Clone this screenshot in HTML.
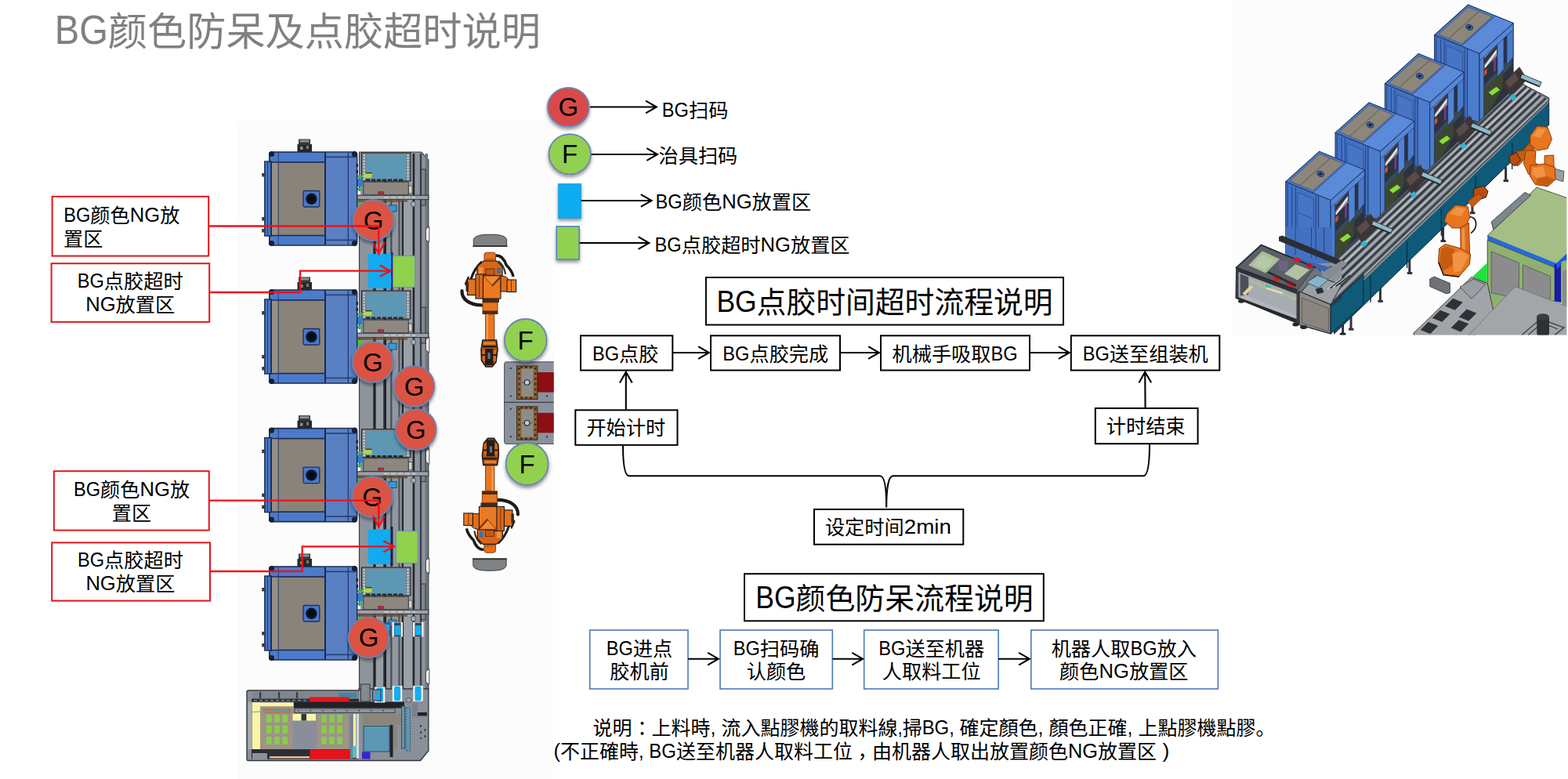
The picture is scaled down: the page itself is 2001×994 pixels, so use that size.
<!DOCTYPE html>
<html lang="zh-CN"><head><meta charset="utf-8"><title>BG颜色防呆及点胶超时说明</title>
<style>html,body{margin:0;padding:0;background:#fff;overflow:hidden}svg{display:block;font-family:'Liberation Sans','Noto Sans CJK SC',sans-serif}</style></head><body>
<svg width="2001" height="994" viewBox="0 0 2001 994">
<defs><filter id="sh" x="-30%" y="-30%" width="160%" height="170%"><feGaussianBlur in="SourceAlpha" stdDeviation="2.2"/><feOffset dx="0" dy="3" result="b"/><feComponentTransfer><feFuncA type="linear" slope="0.42"/></feComponentTransfer><feMerge><feMergeNode/><feMergeNode in="SourceGraphic"/></feMerge></filter></defs>
<rect width="2001" height="994" fill="#fff"/>
<g id="topview">
<clipPath id="tvclip"><rect x="304" y="154" width="402.7" height="840"/></clipPath>
<g clip-path="url(#tvclip)">
<rect x="304" y="154" width="402.7" height="840" fill="#fcfcfc"/>
<polygon points="458.5,194 537.5,194 546.8,204 546.8,880 458.5,880" fill="#8d949c" stroke="#3a3d44" stroke-width="1.2"/>
<rect x="476.3" y="196" width="3.3" height="684" fill="#23262c"/>
<rect x="480" y="196" width="9" height="684" fill="#969da5"/>
<rect x="489.3" y="196" width="3.7" height="684" fill="#23262c"/>
<rect x="498.2" y="196" width="2.2" height="684" fill="#4a4f57"/>
<rect x="501" y="196" width="7" height="684" fill="#9097a0"/>
<rect x="508.4" y="196" width="2" height="684" fill="#4a4f57"/>
<rect x="512.8" y="196" width="2.2" height="684" fill="#23262c"/>
<rect x="515.4" y="196" width="11" height="684" fill="#9aa1a9"/>
<rect x="526.6" y="196" width="2.6" height="684" fill="#23262c"/>
<rect x="535.8" y="196" width="2.4" height="684" fill="#3c4048"/>
<rect x="542.6" y="196" width="3.4" height="684" fill="#70767e"/>
<polygon points="547.8,289 543.4,292.5 543.4,305.5 547.8,309" fill="#fcfcfc" stroke="#3a3d44" stroke-width="0.9"/>
<polygon points="547.8,430 543.4,433.5 543.4,446.5 547.8,450" fill="#fcfcfc" stroke="#3a3d44" stroke-width="0.9"/>
<polygon points="547.8,572.4 543.4,575.9 543.4,588.9 547.8,592.4" fill="#fcfcfc" stroke="#3a3d44" stroke-width="0.9"/>
<polygon points="547.8,712 543.4,715.5 543.4,728.5 547.8,732" fill="#fcfcfc" stroke="#3a3d44" stroke-width="0.9"/>
<polygon points="547.8,853.4 543.4,856.9 543.4,869.9 547.8,873.4" fill="#fcfcfc" stroke="#3a3d44" stroke-width="0.9"/>
<rect x="537.5" y="216" width="5.5" height="46" fill="#7f868e" stroke="#2a2d33" stroke-width="0.9"/>
<rect x="537.5" y="392" width="5.5" height="46" fill="#7f868e" stroke="#2a2d33" stroke-width="0.9"/>
<rect x="537.5" y="568.6" width="5.5" height="46" fill="#7f868e" stroke="#2a2d33" stroke-width="0.9"/>
<rect x="537.5" y="745" width="5.5" height="46" fill="#7f868e" stroke="#2a2d33" stroke-width="0.9"/>
<rect x="461.5" y="195" width="62.5" height="36" fill="#7e868f" stroke="#2a2d33" stroke-width="1.2"/>
<rect x="467.5" y="197.5" width="50.8" height="31.1" fill="#5c97b4"/>
<line x1="464.6" y1="197" x2="464.6" y2="230" stroke="#e9ecef" stroke-width="1.6" stroke-dasharray="2.2 1.6"/>
<line x1="520.6" y1="197" x2="520.6" y2="230" stroke="#e9ecef" stroke-width="1.6" stroke-dasharray="2.2 1.6"/>
<line x1="467" y1="229.6" x2="514" y2="229.6" stroke="#20242a" stroke-width="2.2" stroke-dasharray="5 2"/>
<rect x="454.5" y="223.5" width="8" height="3.3" fill="#41b65a"/>
<rect x="465" y="221" width="9.5" height="6" fill="#b8d63c"/>
<rect x="466.5" y="220" width="8" height="1.4" fill="#2c3a20"/>
<rect x="454.5" y="228" width="8" height="10" fill="#2b7fd4"/>
<rect x="454.5" y="240" width="8" height="3" fill="#41b65a"/>
<rect x="454.5" y="244" width="5.5" height="4.5" fill="#ffffff"/>
<rect x="463.8" y="232.2" width="57.4" height="16.6" fill="#8d877f" stroke="#3a3c40" stroke-width="1"/>
<rect x="482" y="244" width="8" height="4" fill="#a0303a"/>
<rect x="521.5" y="237" width="4.5" height="10" fill="#d8d2c6" stroke="#3a3c40" stroke-width="0.8"/>
<rect x="454" y="249.2" width="92.8" height="5.4" fill="#9ba1a8" stroke="#30343a" stroke-width="1"/>
<line x1="490" y1="251.8" x2="530" y2="251.8" stroke="#c9cdd2" stroke-width="1.6" stroke-dasharray="6 3"/>
<rect x="456" y="255.5" width="64" height="2.1" fill="#7a4a1c"/>
<rect x="454.5" y="258" width="6.5" height="8" fill="#52c12e"/>
<rect x="496" y="262" width="10" height="8" fill="#2d9fd8" stroke="#1c3a50" stroke-width="0.8"/>
<circle cx="527.5" cy="260.5" r="3.2" fill="#a8adb3" stroke="#4a4e55" stroke-width="0.9"/>
<rect x="461.5" y="371" width="62.5" height="36" fill="#7e868f" stroke="#2a2d33" stroke-width="1.2"/>
<rect x="467.5" y="373.5" width="50.8" height="31.1" fill="#5c97b4"/>
<line x1="464.6" y1="373" x2="464.6" y2="406" stroke="#e9ecef" stroke-width="1.6" stroke-dasharray="2.2 1.6"/>
<line x1="520.6" y1="373" x2="520.6" y2="406" stroke="#e9ecef" stroke-width="1.6" stroke-dasharray="2.2 1.6"/>
<line x1="467" y1="405.6" x2="514" y2="405.6" stroke="#20242a" stroke-width="2.2" stroke-dasharray="5 2"/>
<rect x="454.5" y="399.5" width="8" height="3.3" fill="#41b65a"/>
<rect x="465" y="397" width="9.5" height="6" fill="#b8d63c"/>
<rect x="466.5" y="396" width="8" height="1.4" fill="#2c3a20"/>
<rect x="454.5" y="404" width="8" height="10" fill="#2b7fd4"/>
<rect x="454.5" y="416" width="8" height="3" fill="#41b65a"/>
<rect x="454.5" y="420" width="5.5" height="4.5" fill="#ffffff"/>
<rect x="463.8" y="408.2" width="57.4" height="16.6" fill="#8d877f" stroke="#3a3c40" stroke-width="1"/>
<rect x="482" y="420" width="8" height="4" fill="#a0303a"/>
<rect x="521.5" y="413" width="4.5" height="10" fill="#d8d2c6" stroke="#3a3c40" stroke-width="0.8"/>
<rect x="454" y="425.2" width="92.8" height="5.4" fill="#9ba1a8" stroke="#30343a" stroke-width="1"/>
<line x1="490" y1="427.8" x2="530" y2="427.8" stroke="#c9cdd2" stroke-width="1.6" stroke-dasharray="6 3"/>
<rect x="456" y="431.5" width="64" height="2.1" fill="#7a4a1c"/>
<rect x="454.5" y="434" width="6.5" height="8" fill="#52c12e"/>
<rect x="496" y="438" width="10" height="8" fill="#2d9fd8" stroke="#1c3a50" stroke-width="0.8"/>
<circle cx="527.5" cy="436.5" r="3.2" fill="#a8adb3" stroke="#4a4e55" stroke-width="0.9"/>
<rect x="461.5" y="547.6" width="62.5" height="36" fill="#7e868f" stroke="#2a2d33" stroke-width="1.2"/>
<rect x="467.5" y="550.1" width="50.8" height="31.1" fill="#5c97b4"/>
<line x1="464.6" y1="549.6" x2="464.6" y2="582.6" stroke="#e9ecef" stroke-width="1.6" stroke-dasharray="2.2 1.6"/>
<line x1="520.6" y1="549.6" x2="520.6" y2="582.6" stroke="#e9ecef" stroke-width="1.6" stroke-dasharray="2.2 1.6"/>
<line x1="467" y1="582.2" x2="514" y2="582.2" stroke="#20242a" stroke-width="2.2" stroke-dasharray="5 2"/>
<rect x="454.5" y="576.1" width="8" height="3.3" fill="#41b65a"/>
<rect x="465" y="573.6" width="9.5" height="6" fill="#b8d63c"/>
<rect x="466.5" y="572.6" width="8" height="1.4" fill="#2c3a20"/>
<rect x="454.5" y="580.6" width="8" height="10" fill="#2b7fd4"/>
<rect x="454.5" y="592.6" width="8" height="3" fill="#41b65a"/>
<rect x="454.5" y="596.6" width="5.5" height="4.5" fill="#ffffff"/>
<rect x="463.8" y="584.8" width="57.4" height="16.6" fill="#8d877f" stroke="#3a3c40" stroke-width="1"/>
<rect x="482" y="596.6" width="8" height="4" fill="#a0303a"/>
<rect x="521.5" y="589.6" width="4.5" height="10" fill="#d8d2c6" stroke="#3a3c40" stroke-width="0.8"/>
<rect x="454" y="601.8" width="92.8" height="5.4" fill="#9ba1a8" stroke="#30343a" stroke-width="1"/>
<line x1="490" y1="604.4" x2="530" y2="604.4" stroke="#c9cdd2" stroke-width="1.6" stroke-dasharray="6 3"/>
<rect x="456" y="608.1" width="64" height="2.1" fill="#7a4a1c"/>
<rect x="454.5" y="610.6" width="6.5" height="8" fill="#52c12e"/>
<rect x="496" y="614.6" width="10" height="8" fill="#2d9fd8" stroke="#1c3a50" stroke-width="0.8"/>
<circle cx="527.5" cy="613.1" r="3.2" fill="#a8adb3" stroke="#4a4e55" stroke-width="0.9"/>
<rect x="461.5" y="724" width="62.5" height="36" fill="#7e868f" stroke="#2a2d33" stroke-width="1.2"/>
<rect x="467.5" y="726.5" width="50.8" height="31.1" fill="#5c97b4"/>
<line x1="464.6" y1="726" x2="464.6" y2="759" stroke="#e9ecef" stroke-width="1.6" stroke-dasharray="2.2 1.6"/>
<line x1="520.6" y1="726" x2="520.6" y2="759" stroke="#e9ecef" stroke-width="1.6" stroke-dasharray="2.2 1.6"/>
<line x1="467" y1="758.6" x2="514" y2="758.6" stroke="#20242a" stroke-width="2.2" stroke-dasharray="5 2"/>
<rect x="454.5" y="752.5" width="8" height="3.3" fill="#41b65a"/>
<rect x="465" y="750" width="9.5" height="6" fill="#b8d63c"/>
<rect x="466.5" y="749" width="8" height="1.4" fill="#2c3a20"/>
<rect x="454.5" y="757" width="8" height="10" fill="#2b7fd4"/>
<rect x="454.5" y="769" width="8" height="3" fill="#41b65a"/>
<rect x="454.5" y="773" width="5.5" height="4.5" fill="#ffffff"/>
<rect x="463.8" y="761.2" width="57.4" height="16.6" fill="#8d877f" stroke="#3a3c40" stroke-width="1"/>
<rect x="482" y="773" width="8" height="4" fill="#a0303a"/>
<rect x="521.5" y="766" width="4.5" height="10" fill="#d8d2c6" stroke="#3a3c40" stroke-width="0.8"/>
<rect x="454" y="778.2" width="92.8" height="5.4" fill="#9ba1a8" stroke="#30343a" stroke-width="1"/>
<line x1="490" y1="780.8" x2="530" y2="780.8" stroke="#c9cdd2" stroke-width="1.6" stroke-dasharray="6 3"/>
<rect x="456" y="784.5" width="64" height="2.1" fill="#7a4a1c"/>
<rect x="454.5" y="787" width="6.5" height="8" fill="#52c12e"/>
<rect x="496" y="791" width="10" height="8" fill="#2d9fd8" stroke="#1c3a50" stroke-width="0.8"/>
<circle cx="527.5" cy="789.5" r="3.2" fill="#a8adb3" stroke="#4a4e55" stroke-width="0.9"/>
<rect x="469.8" y="324" width="29.2" height="44" fill="#12aaf0"/>
<rect x="499.2" y="322" width="2.4" height="48" fill="#1f2c7a"/>
<rect x="501.6" y="326.4" width="28" height="40" fill="#8fd04c" stroke="#6b8fc0" stroke-width="1"/>
<rect x="469.8" y="675.4" width="28.6" height="44.6" fill="#12aaf0"/>
<rect x="498.6" y="672" width="2.8" height="50" fill="#1a1d3a"/>
<rect x="505.4" y="677.7" width="27.8" height="40.8" fill="#8fd04c" stroke="#6b8fc0" stroke-width="1"/>
<rect x="500.5" y="794" width="13.5" height="18.5" fill="#f4f4f2"/>
<rect x="502.9" y="794.5" width="8.7" height="18" fill="#3a4048"/>
<rect x="503.5" y="798" width="7.5" height="12.5" fill="#14aef0"/>
<rect x="527" y="794" width="13.5" height="18.5" fill="#f4f4f2"/>
<rect x="529.4" y="794.5" width="8.7" height="18" fill="#3a4048"/>
<rect x="530" y="798" width="7.5" height="12.5" fill="#14aef0"/>
<rect x="489" y="794" width="10" height="18" fill="#3f5a78"/>
<rect x="492" y="797" width="5" height="8" fill="#14aef0"/>
<path d="M317 881H458V879H546.8V958L536.5 970.5H317Q315 970.5 315 968.5V883Q315 881 317 881Z" fill="#8a9098" stroke="#34373d" stroke-width="1.4"/>
<rect x="322" y="883" width="136" height="8" fill="#80868e"/>
<rect x="331" y="883" width="2.2" height="8" fill="#3a3d44"/>
<rect x="355" y="883" width="2.2" height="8" fill="#3a3d44"/>
<rect x="378" y="883" width="2.2" height="8" fill="#3a3d44"/>
<rect x="432" y="884" width="23" height="6" fill="#3f86a8"/>
<rect x="321" y="891.5" width="137" height="4" fill="#2b2e34"/>
<rect x="395" y="889.5" width="50.5" height="6" fill="#e8121a"/>
<line x1="324" y1="893.6" x2="394" y2="893.6" stroke="#8a9098" stroke-width="1.2" stroke-dasharray="4 3"/>
<rect x="375" y="895.5" width="141" height="8" fill="#202226"/>
<rect x="376" y="904" width="128" height="5.5" fill="#8d939a" stroke="#2b2e34" stroke-width="0.8"/>
<line x1="380" y1="906.7" x2="500" y2="906.7" stroke="#3a3d44" stroke-width="1.4" stroke-dasharray="1.5 14"/>
<rect x="322" y="896.5" width="52.5" height="5" fill="#fdf5a6"/>
<rect x="322" y="896.5" width="10" height="59.5" fill="#fdf5a6"/>
<rect x="372.5" y="911" width="30.5" height="8.5" fill="#fdf5a6"/>
<rect x="384.5" y="911" width="6.5" height="8.5" fill="#33363c"/>
<rect x="332" y="901.5" width="41.5" height="54.5" fill="#9d9486"/>
<rect x="336" y="904" width="35" height="6" fill="#a97b5e"/>
<rect x="404" y="911.5" width="40.5" height="44.5" fill="#9d9486"/>
<rect x="374" y="920" width="30" height="36" fill="#8a8e9c"/>
<rect x="340" y="912" width="6.6" height="10" fill="#86d642" opacity="0.85"/>
<rect x="340" y="926" width="6.6" height="10" fill="#86d642" opacity="0.85"/>
<rect x="340" y="940" width="6.6" height="10" fill="#86d642" opacity="0.85"/>
<rect x="350.2" y="912" width="6.6" height="10" fill="#86d642" opacity="0.85"/>
<rect x="350.2" y="926" width="6.6" height="10" fill="#86d642" opacity="0.85"/>
<rect x="350.2" y="940" width="6.6" height="10" fill="#86d642" opacity="0.85"/>
<rect x="360.4" y="912" width="6.6" height="10" fill="#86d642" opacity="0.85"/>
<rect x="360.4" y="926" width="6.6" height="10" fill="#86d642" opacity="0.85"/>
<rect x="360.4" y="940" width="6.6" height="10" fill="#86d642" opacity="0.85"/>
<rect x="410" y="912" width="6.6" height="10" fill="#86d642" opacity="0.85"/>
<rect x="410" y="926" width="6.6" height="10" fill="#86d642" opacity="0.85"/>
<rect x="410" y="940" width="6.6" height="10" fill="#86d642" opacity="0.85"/>
<rect x="420.2" y="912" width="6.6" height="10" fill="#86d642" opacity="0.85"/>
<rect x="420.2" y="926" width="6.6" height="10" fill="#86d642" opacity="0.85"/>
<rect x="420.2" y="940" width="6.6" height="10" fill="#86d642" opacity="0.85"/>
<rect x="430.4" y="912" width="6.6" height="10" fill="#86d642" opacity="0.85"/>
<rect x="430.4" y="926" width="6.6" height="10" fill="#86d642" opacity="0.85"/>
<rect x="430.4" y="940" width="6.6" height="10" fill="#86d642" opacity="0.85"/>
<line x1="321" y1="908.5" x2="368" y2="906.5" stroke="#3bb6c4" stroke-width="1"/>
<rect x="316.5" y="896" width="5" height="60" fill="#a8adb3"/>
<rect x="321" y="956" width="137" height="12.5" fill="#2b2e34"/>
<rect x="322" y="961" width="19" height="8.5" fill="#8b9198"/>
<rect x="344" y="965" width="51" height="2.4" fill="#f0b8a0"/>
<rect x="395.5" y="956.5" width="50.5" height="12" fill="#e8121a"/>
<rect x="450" y="952" width="5.5" height="15" fill="#52c0c4"/>
<rect x="446.5" y="911" width="3.5" height="57" fill="#7a8088"/>
<rect x="451" y="911" width="3" height="41" fill="#fdf5a6"/>
<rect x="455" y="911" width="3" height="57" fill="#d6d8da"/>
<rect x="460.5" y="873" width="11.5" height="22" fill="#858b93" stroke="#34373d" stroke-width="1"/>
<rect x="462" y="911" width="50" height="14" fill="#8b857d"/>
<rect x="464" y="926.5" width="33" height="32.5" fill="#5c97b4" stroke="#2f4a5a" stroke-width="1"/>
<rect x="462" y="959.5" width="10.5" height="9" fill="#3a22d0"/>
<rect x="497.5" y="925" width="4" height="41" fill="#202226"/>
<rect x="502" y="926" width="5" height="29" fill="#8b857d"/>
<rect x="512.5" y="901" width="4" height="54" fill="#6f93a8" stroke="#2b3c48" stroke-width="0.8"/>
<rect x="518" y="903" width="5.5" height="55" fill="#5c97b4" stroke="#2b3c48" stroke-width="0.8" stroke-dasharray="2 1.5"/>
<rect x="530" y="909" width="15" height="4.5" fill="#202226"/>
<rect x="526" y="897" width="7" height="18" fill="#7b8189"/>
<line x1="537" y1="925" x2="537" y2="943" stroke="#202226" stroke-width="1.4" stroke-dasharray="3 5"/>
<line x1="542.5" y1="930" x2="542.5" y2="946" stroke="#202226" stroke-width="1.4" stroke-dasharray="3 5"/>
<rect x="478" y="876.5" width="13.5" height="20" fill="#f4f4f2" stroke="#8a8f96" stroke-width="0.6"/>
<rect x="480.4" y="877.5" width="8.7" height="18" fill="#14aef0" rx="2"/>
<rect x="500.5" y="875" width="13" height="20" fill="#f4f4f2" stroke="#8a8f96" stroke-width="0.6"/>
<rect x="502.9" y="876" width="8.2" height="18" fill="#14aef0" rx="2"/>
<rect x="527" y="875" width="13" height="20" fill="#f4f4f2" stroke="#8a8f96" stroke-width="0.6"/>
<rect x="529.4" y="876" width="8.2" height="18" fill="#14aef0" rx="2"/>
<rect x="475.5" y="880" width="10.5" height="14" fill="#7a8aa0" stroke="#20305a" stroke-width="1"/>
<rect x="480" y="884" width="4" height="8" fill="#14aef0"/>
<circle cx="521.5" cy="893.5" r="3.2" fill="#9aa0a7" stroke="#4a4e55" stroke-width="0.9"/>
<rect x="379.5" y="184" width="18.5" height="11" fill="#26282c"/>
<rect x="381" y="177.5" width="15" height="7.5" fill="#35373b"/>
<rect x="382.5" y="178.5" width="12" height="3" fill="#8b8d90"/>
<rect x="383" y="187" width="3.5" height="4" fill="#8b8d90"/>
<rect x="391" y="186" width="3" height="4" fill="#77797c"/>
<rect x="343.8" y="194" width="111.8" height="119" fill="#4c7bcb" stroke="#1b2a4a" stroke-width="1.6" rx="4"/>
<rect x="337.8" y="206" width="8.4" height="95" fill="#4675c4" stroke="#1b2a4a" stroke-width="1.4"/>
<rect x="415" y="194.8" width="39.8" height="117.4" fill="#5a80c4"/>
<rect x="415" y="199.5" width="39.8" height="1.7" fill="#27427a"/>
<rect x="415" y="305.5" width="39.8" height="1.7" fill="#27427a"/>
<rect x="346.2" y="207" width="68.8" height="93.5" fill="#8a837a" stroke="#1b2a4a" stroke-width="1.6"/>
<rect x="347" y="207.8" width="7.8" height="91.9" fill="#958f87"/>
<line x1="355.2" y1="195" x2="355.2" y2="312" stroke="#2a3f70" stroke-width="1"/>
<line x1="415" y1="194.5" x2="415" y2="312.5" stroke="#1b2a4a" stroke-width="2"/>
<line x1="444.3" y1="195" x2="444.3" y2="312" stroke="#1d3568" stroke-width="1.2"/>
<line x1="341.5" y1="207" x2="341.5" y2="300" stroke="#2a3f70" stroke-width="1"/>
<circle cx="346.5" cy="196.5" r="3.6" fill="#15203a"/>
<circle cx="452.5" cy="196.5" r="3.6" fill="#15203a"/>
<circle cx="346.5" cy="310.5" r="3.6" fill="#15203a"/>
<circle cx="452.5" cy="310.5" r="3.6" fill="#15203a"/>
<rect x="334.2" y="221" width="4.3" height="4.5" fill="#3a3a35"/>
<rect x="334.2" y="277" width="4.3" height="4.5" fill="#3a3a35"/>
<rect x="334.2" y="292" width="4.3" height="4.5" fill="#3a3a35"/>
<rect x="454.5" y="209" width="2.5" height="4" fill="#15203a"/>
<rect x="454.5" y="217" width="2.5" height="4" fill="#15203a"/>
<rect x="387" y="243.5" width="20.8" height="20.5" fill="#4a78c6" stroke="#1c3260" stroke-width="1.3" rx="1.5"/>
<circle cx="397.4" cy="253.8" r="7.2" fill="#0c1428"/>
<circle cx="397.4" cy="253.8" r="4" fill="#060a14"/>
<rect x="379.5" y="360" width="18.5" height="11" fill="#26282c"/>
<rect x="381" y="353.5" width="15" height="7.5" fill="#35373b"/>
<rect x="382.5" y="354.5" width="12" height="3" fill="#8b8d90"/>
<rect x="383" y="363" width="3.5" height="4" fill="#8b8d90"/>
<rect x="391" y="362" width="3" height="4" fill="#77797c"/>
<rect x="343.8" y="370" width="111.8" height="119" fill="#4c7bcb" stroke="#1b2a4a" stroke-width="1.6" rx="4"/>
<rect x="337.8" y="382" width="8.4" height="95" fill="#4675c4" stroke="#1b2a4a" stroke-width="1.4"/>
<rect x="415" y="370.8" width="39.8" height="117.4" fill="#5a80c4"/>
<rect x="415" y="375.5" width="39.8" height="1.7" fill="#27427a"/>
<rect x="415" y="481.5" width="39.8" height="1.7" fill="#27427a"/>
<rect x="346.2" y="383" width="68.8" height="93.5" fill="#8a837a" stroke="#1b2a4a" stroke-width="1.6"/>
<rect x="347" y="383.8" width="7.8" height="91.9" fill="#958f87"/>
<line x1="355.2" y1="371" x2="355.2" y2="488" stroke="#2a3f70" stroke-width="1"/>
<line x1="415" y1="370.5" x2="415" y2="488.5" stroke="#1b2a4a" stroke-width="2"/>
<line x1="444.3" y1="371" x2="444.3" y2="488" stroke="#1d3568" stroke-width="1.2"/>
<line x1="341.5" y1="383" x2="341.5" y2="476" stroke="#2a3f70" stroke-width="1"/>
<circle cx="346.5" cy="372.5" r="3.6" fill="#15203a"/>
<circle cx="452.5" cy="372.5" r="3.6" fill="#15203a"/>
<circle cx="346.5" cy="486.5" r="3.6" fill="#15203a"/>
<circle cx="452.5" cy="486.5" r="3.6" fill="#15203a"/>
<rect x="334.2" y="397" width="4.3" height="4.5" fill="#3a3a35"/>
<rect x="334.2" y="453" width="4.3" height="4.5" fill="#3a3a35"/>
<rect x="334.2" y="468" width="4.3" height="4.5" fill="#3a3a35"/>
<rect x="454.5" y="385" width="2.5" height="4" fill="#15203a"/>
<rect x="454.5" y="393" width="2.5" height="4" fill="#15203a"/>
<rect x="387" y="419.5" width="20.8" height="20.5" fill="#4a78c6" stroke="#1c3260" stroke-width="1.3" rx="1.5"/>
<circle cx="397.4" cy="429.8" r="7.2" fill="#0c1428"/>
<circle cx="397.4" cy="429.8" r="4" fill="#060a14"/>
<rect x="379.5" y="536.6" width="18.5" height="11" fill="#26282c"/>
<rect x="381" y="530.1" width="15" height="7.5" fill="#35373b"/>
<rect x="382.5" y="531.1" width="12" height="3" fill="#8b8d90"/>
<rect x="383" y="539.6" width="3.5" height="4" fill="#8b8d90"/>
<rect x="391" y="538.6" width="3" height="4" fill="#77797c"/>
<rect x="343.8" y="546.6" width="111.8" height="119" fill="#4c7bcb" stroke="#1b2a4a" stroke-width="1.6" rx="4"/>
<rect x="337.8" y="558.6" width="8.4" height="95" fill="#4675c4" stroke="#1b2a4a" stroke-width="1.4"/>
<rect x="415" y="547.4" width="39.8" height="117.4" fill="#5a80c4"/>
<rect x="415" y="552.1" width="39.8" height="1.7" fill="#27427a"/>
<rect x="415" y="658.1" width="39.8" height="1.7" fill="#27427a"/>
<rect x="346.2" y="559.6" width="68.8" height="93.5" fill="#8a837a" stroke="#1b2a4a" stroke-width="1.6"/>
<rect x="347" y="560.4" width="7.8" height="91.9" fill="#958f87"/>
<line x1="355.2" y1="547.6" x2="355.2" y2="664.6" stroke="#2a3f70" stroke-width="1"/>
<line x1="415" y1="547.1" x2="415" y2="665.1" stroke="#1b2a4a" stroke-width="2"/>
<line x1="444.3" y1="547.6" x2="444.3" y2="664.6" stroke="#1d3568" stroke-width="1.2"/>
<line x1="341.5" y1="559.6" x2="341.5" y2="652.6" stroke="#2a3f70" stroke-width="1"/>
<circle cx="346.5" cy="549.1" r="3.6" fill="#15203a"/>
<circle cx="452.5" cy="549.1" r="3.6" fill="#15203a"/>
<circle cx="346.5" cy="663.1" r="3.6" fill="#15203a"/>
<circle cx="452.5" cy="663.1" r="3.6" fill="#15203a"/>
<rect x="334.2" y="573.6" width="4.3" height="4.5" fill="#3a3a35"/>
<rect x="334.2" y="629.6" width="4.3" height="4.5" fill="#3a3a35"/>
<rect x="334.2" y="644.6" width="4.3" height="4.5" fill="#3a3a35"/>
<rect x="454.5" y="561.6" width="2.5" height="4" fill="#15203a"/>
<rect x="454.5" y="569.6" width="2.5" height="4" fill="#15203a"/>
<rect x="387" y="596.1" width="20.8" height="20.5" fill="#4a78c6" stroke="#1c3260" stroke-width="1.3" rx="1.5"/>
<circle cx="397.4" cy="606.4" r="7.2" fill="#0c1428"/>
<circle cx="397.4" cy="606.4" r="4" fill="#060a14"/>
<rect x="379.5" y="713" width="18.5" height="11" fill="#26282c"/>
<rect x="381" y="706.5" width="15" height="7.5" fill="#35373b"/>
<rect x="382.5" y="707.5" width="12" height="3" fill="#8b8d90"/>
<rect x="383" y="716" width="3.5" height="4" fill="#8b8d90"/>
<rect x="391" y="715" width="3" height="4" fill="#77797c"/>
<rect x="343.8" y="723" width="111.8" height="119" fill="#4c7bcb" stroke="#1b2a4a" stroke-width="1.6" rx="4"/>
<rect x="337.8" y="735" width="8.4" height="95" fill="#4675c4" stroke="#1b2a4a" stroke-width="1.4"/>
<rect x="415" y="723.8" width="39.8" height="117.4" fill="#5a80c4"/>
<rect x="415" y="728.5" width="39.8" height="1.7" fill="#27427a"/>
<rect x="415" y="834.5" width="39.8" height="1.7" fill="#27427a"/>
<rect x="346.2" y="736" width="68.8" height="93.5" fill="#8a837a" stroke="#1b2a4a" stroke-width="1.6"/>
<rect x="347" y="736.8" width="7.8" height="91.9" fill="#958f87"/>
<line x1="355.2" y1="724" x2="355.2" y2="841" stroke="#2a3f70" stroke-width="1"/>
<line x1="415" y1="723.5" x2="415" y2="841.5" stroke="#1b2a4a" stroke-width="2"/>
<line x1="444.3" y1="724" x2="444.3" y2="841" stroke="#1d3568" stroke-width="1.2"/>
<line x1="341.5" y1="736" x2="341.5" y2="829" stroke="#2a3f70" stroke-width="1"/>
<circle cx="346.5" cy="725.5" r="3.6" fill="#15203a"/>
<circle cx="452.5" cy="725.5" r="3.6" fill="#15203a"/>
<circle cx="346.5" cy="839.5" r="3.6" fill="#15203a"/>
<circle cx="452.5" cy="839.5" r="3.6" fill="#15203a"/>
<rect x="334.2" y="750" width="4.3" height="4.5" fill="#3a3a35"/>
<rect x="334.2" y="806" width="4.3" height="4.5" fill="#3a3a35"/>
<rect x="334.2" y="821" width="4.3" height="4.5" fill="#3a3a35"/>
<rect x="454.5" y="738" width="2.5" height="4" fill="#15203a"/>
<rect x="454.5" y="746" width="2.5" height="4" fill="#15203a"/>
<rect x="387" y="772.5" width="20.8" height="20.5" fill="#4a78c6" stroke="#1c3260" stroke-width="1.3" rx="1.5"/>
<circle cx="397.4" cy="782.8" r="7.2" fill="#0c1428"/>
<circle cx="397.4" cy="782.8" r="4" fill="#060a14"/>
<rect x="643.6" y="461.8" width="68.4" height="104.6" fill="#8b919c" stroke="#4a4e58" stroke-width="1" rx="2.5"/>
<line x1="643.6" y1="513.4" x2="712" y2="513.4" stroke="#3c4048" stroke-width="1.2"/>
<rect x="685.5" y="475" width="26.5" height="25.5" fill="#8c0f14"/>
<rect x="659.6" y="467" width="26.2" height="42.4" fill="#8a6238" stroke="#3a2a18" stroke-width="1.1"/>
<rect x="665.3" y="470.5" width="15.2" height="35.5" fill="#8e8c88"/>
<line x1="662.4" y1="469" x2="662.4" y2="507.5" stroke="#3a2a18" stroke-width="2.6" stroke-dasharray="2.4 4.2"/>
<line x1="683.2" y1="469" x2="683.2" y2="507.5" stroke="#3a2a18" stroke-width="2.6" stroke-dasharray="2.4 4.2"/>
<line x1="664" y1="468.8" x2="682" y2="468.8" stroke="#3a2a18" stroke-width="2" stroke-dasharray="3 3"/>
<line x1="664" y1="507.6" x2="682" y2="507.6" stroke="#3a2a18" stroke-width="2" stroke-dasharray="3 3"/>
<circle cx="672.6" cy="488" r="3.3" fill="#c9ccd2" stroke="#20242c" stroke-width="1.1"/>
<line x1="666.5" y1="488" x2="678.5" y2="488" stroke="#20242c" stroke-width="0.8" stroke-dasharray="2 8"/>
<circle cx="651.8" cy="470" r="1.1" fill="#1c2030"/>
<circle cx="651.8" cy="505.5" r="1.1" fill="#1c2030"/>
<circle cx="698" cy="505.5" r="1.1" fill="#1c2030"/>
<rect x="685.5" y="526.8" width="26.5" height="25.5" fill="#8c0f14"/>
<rect x="659.6" y="518.8" width="26.2" height="42.4" fill="#8a6238" stroke="#3a2a18" stroke-width="1.1"/>
<rect x="665.3" y="522.3" width="15.2" height="35.5" fill="#8e8c88"/>
<line x1="662.4" y1="520.8" x2="662.4" y2="559.3" stroke="#3a2a18" stroke-width="2.6" stroke-dasharray="2.4 4.2"/>
<line x1="683.2" y1="520.8" x2="683.2" y2="559.3" stroke="#3a2a18" stroke-width="2.6" stroke-dasharray="2.4 4.2"/>
<line x1="664" y1="520.6" x2="682" y2="520.6" stroke="#3a2a18" stroke-width="2" stroke-dasharray="3 3"/>
<line x1="664" y1="559.4" x2="682" y2="559.4" stroke="#3a2a18" stroke-width="2" stroke-dasharray="3 3"/>
<circle cx="672.6" cy="539.8" r="3.3" fill="#c9ccd2" stroke="#20242c" stroke-width="1.1"/>
<line x1="666.5" y1="539.8" x2="678.5" y2="539.8" stroke="#20242c" stroke-width="0.8" stroke-dasharray="2 8"/>
<circle cx="651.8" cy="521.8" r="1.1" fill="#1c2030"/>
<circle cx="651.8" cy="557.3" r="1.1" fill="#1c2030"/>
<circle cx="698" cy="557.3" r="1.1" fill="#1c2030"/>
<path d="M604.3 314.4V305.5C606 301 612 299.2 625.4 299.2C639 299.2 645 301 646.6 305.5V314.4Z" fill="#7f8285" stroke="#3c3e41" stroke-width="1"/><rect x="603.5" y="313.2" width="43.9" height="1.8" fill="#2d2f31"/><path d="M589.5 371C589 381 598 389.5 616 389.5" fill="none" stroke="#1e1a18" stroke-width="4.2" stroke-linecap="round"/><path d="M633 326C640 326 644 332 646 338C650 342 654 347 655 353" fill="none" stroke="#1e1a18" stroke-width="3.4"/><path d="M636 333C641 337 644 343 645 350" fill="none" stroke="#3a3430" stroke-width="2.2"/><path d="M615 334C608 340 604 347 601 356" fill="none" stroke="#1e1a18" stroke-width="3"/><path d="M598 353L594 362L597 366" fill="none" stroke="#1e1a18" stroke-width="2.2"/><rect x="618" y="322.2" width="14.5" height="18.8" fill="#e4721e" stroke="#8a3a08" stroke-width="1" rx="3"/><rect x="619.5" y="330" width="11.5" height="2" fill="#c05a14"/><path d="M609 340L617 333H634L641 340V353H609Z" fill="#d8661a" stroke="#1e1a18" stroke-width="1.2"/><rect x="611" y="341" width="5.5" height="8" fill="#f2923e"/><rect x="620" y="343" width="11" height="8" fill="#c65a12" stroke="#5a2a08" stroke-width="0.8"/><rect x="634" y="341.5" width="4.5" height="7.5" fill="#3a6fb0"/><rect x="596.5" y="356" width="14.5" height="20.5" fill="#e4721e" stroke="#1e1a18" stroke-width="1.2"/><rect x="594.5" y="360" width="3.5" height="12" fill="#3a2a1c"/><rect x="607" y="350" width="13" height="31" fill="#d9681b" stroke="#1e1a18" stroke-width="1.1"/><line x1="611.5" y1="352" x2="611.5" y2="379" stroke="#7a3408" stroke-width="1"/><rect x="616.5" y="351.5" width="22.5" height="29.5" fill="#ea7a22" stroke="#1e1a18" stroke-width="1.1"/><path d="M617 352L639 352L628 364Z" fill="#f08a34" stroke="#7a3408" stroke-width="0.9"/><path d="M639 353L628 365" fill="none" stroke="#7a3408" stroke-width="2.2"/><path d="M639 352C648 352 651 358 651 363V372H639Z" fill="#e06c1c" stroke="#1e1a18" stroke-width="1"/><rect x="647" y="357" width="11.6" height="15.5" fill="#ea7a22" stroke="#1e1a18" stroke-width="1.1"/><line x1="652.5" y1="358" x2="652.5" y2="372" stroke="#7a3408" stroke-width="1"/><rect x="615.5" y="381" width="21.5" height="5" fill="#3a2a20"/><rect x="616" y="386" width="19" height="14.5" fill="#ea7620" stroke="#8a3a08" stroke-width="1"/><rect x="616" y="396.5" width="19" height="4.3" fill="#4a2a14"/><rect x="619.6" y="401" width="11.2" height="33" fill="#e87720" stroke="#8a3a08" stroke-width="1"/><rect x="620.4" y="401" width="2.6" height="33" fill="#f39a4c"/><path d="M616 434H633.5L635 446L633 462L628 468H620L614.5 460L614 446Z" fill="#b45216" stroke="#1e1a18" stroke-width="1.6"/><rect x="617" y="436.5" width="15" height="3" fill="#e8802c"/><rect x="616" y="441" width="17.5" height="2.5" fill="#2a1c12"/><rect x="619" y="445" width="10.5" height="21" fill="#241e1a"/><rect x="616" y="447" width="3" height="14" fill="#d8691c"/><rect x="629.5" y="447" width="3.5" height="14" fill="#d8691c"/><rect x="615" y="452" width="19" height="2" fill="#2a1c12"/><rect x="622.5" y="450" width="3" height="8" fill="#6a7888"/>
<g transform="rotate(180 625.2 513.7)"><path d="M604.3 314.4V305.5C606 301 612 299.2 625.4 299.2C639 299.2 645 301 646.6 305.5V314.4Z" fill="#7f8285" stroke="#3c3e41" stroke-width="1"/><rect x="603.5" y="313.2" width="43.9" height="1.8" fill="#2d2f31"/><path d="M589.5 371C589 381 598 389.5 616 389.5" fill="none" stroke="#1e1a18" stroke-width="4.2" stroke-linecap="round"/><path d="M633 326C640 326 644 332 646 338C650 342 654 347 655 353" fill="none" stroke="#1e1a18" stroke-width="3.4"/><path d="M636 333C641 337 644 343 645 350" fill="none" stroke="#3a3430" stroke-width="2.2"/><path d="M615 334C608 340 604 347 601 356" fill="none" stroke="#1e1a18" stroke-width="3"/><path d="M598 353L594 362L597 366" fill="none" stroke="#1e1a18" stroke-width="2.2"/><rect x="618" y="322.2" width="14.5" height="18.8" fill="#e4721e" stroke="#8a3a08" stroke-width="1" rx="3"/><rect x="619.5" y="330" width="11.5" height="2" fill="#c05a14"/><path d="M609 340L617 333H634L641 340V353H609Z" fill="#d8661a" stroke="#1e1a18" stroke-width="1.2"/><rect x="611" y="341" width="5.5" height="8" fill="#f2923e"/><rect x="620" y="343" width="11" height="8" fill="#c65a12" stroke="#5a2a08" stroke-width="0.8"/><rect x="634" y="341.5" width="4.5" height="7.5" fill="#3a6fb0"/><rect x="596.5" y="356" width="14.5" height="20.5" fill="#e4721e" stroke="#1e1a18" stroke-width="1.2"/><rect x="594.5" y="360" width="3.5" height="12" fill="#3a2a1c"/><rect x="607" y="350" width="13" height="31" fill="#d9681b" stroke="#1e1a18" stroke-width="1.1"/><line x1="611.5" y1="352" x2="611.5" y2="379" stroke="#7a3408" stroke-width="1"/><rect x="616.5" y="351.5" width="22.5" height="29.5" fill="#ea7a22" stroke="#1e1a18" stroke-width="1.1"/><path d="M617 352L639 352L628 364Z" fill="#f08a34" stroke="#7a3408" stroke-width="0.9"/><path d="M639 353L628 365" fill="none" stroke="#7a3408" stroke-width="2.2"/><path d="M639 352C648 352 651 358 651 363V372H639Z" fill="#e06c1c" stroke="#1e1a18" stroke-width="1"/><rect x="647" y="357" width="11.6" height="15.5" fill="#ea7a22" stroke="#1e1a18" stroke-width="1.1"/><line x1="652.5" y1="358" x2="652.5" y2="372" stroke="#7a3408" stroke-width="1"/><rect x="615.5" y="381" width="21.5" height="5" fill="#3a2a20"/><rect x="616" y="386" width="19" height="14.5" fill="#ea7620" stroke="#8a3a08" stroke-width="1"/><rect x="616" y="396.5" width="19" height="4.3" fill="#4a2a14"/><rect x="619.6" y="401" width="11.2" height="33" fill="#e87720" stroke="#8a3a08" stroke-width="1"/><rect x="620.4" y="401" width="2.6" height="33" fill="#f39a4c"/><path d="M616 434H633.5L635 446L633 462L628 468H620L614.5 460L614 446Z" fill="#b45216" stroke="#1e1a18" stroke-width="1.6"/><rect x="617" y="436.5" width="15" height="3" fill="#e8802c"/><rect x="616" y="441" width="17.5" height="2.5" fill="#2a1c12"/><rect x="619" y="445" width="10.5" height="21" fill="#241e1a"/><rect x="616" y="447" width="3" height="14" fill="#d8691c"/><rect x="629.5" y="447" width="3.5" height="14" fill="#d8691c"/><rect x="615" y="452" width="19" height="2" fill="#2a1c12"/><rect x="622.5" y="450" width="3" height="8" fill="#6a7888"/></g>
</g>
</g>
<g id="iso">
<rect x="1573.3" y="0" width="426" height="427.5" fill="#fcfcfc"/>
<clipPath id="isoclip"><rect x="1573.3" y="0" width="426" height="427.5"/></clipPath>
<g clip-path="url(#isoclip)">
<rect x="1722.52" y="402.64" width="3" height="18" fill="#30343a"/>
<rect x="1721.02" y="418.64" width="6.5" height="3" fill="#30343a"/>
<rect x="1759.9" y="366.8" width="3" height="18" fill="#30343a"/>
<rect x="1758.4" y="382.8" width="6.5" height="3" fill="#30343a"/>
<rect x="1797.28" y="330.96" width="3" height="18" fill="#30343a"/>
<rect x="1795.78" y="346.96" width="6.5" height="3" fill="#30343a"/>
<rect x="1840" y="290" width="3" height="18" fill="#30343a"/>
<rect x="1838.5" y="306" width="6.5" height="3" fill="#30343a"/>
<rect x="1877.38" y="254.16" width="3" height="18" fill="#30343a"/>
<rect x="1875.88" y="270.16" width="6.5" height="3" fill="#30343a"/>
<rect x="1920.1" y="213.2" width="3" height="18" fill="#30343a"/>
<rect x="1918.6" y="229.2" width="6.5" height="3" fill="#30343a"/>
<rect x="1954.81" y="179.92" width="3" height="18" fill="#30343a"/>
<rect x="1953.31" y="195.92" width="6.5" height="3" fill="#30343a"/>
<polygon points="1702.57,389.64 1976.65,126.63 1976.65,159.4 1702.57,425.95" fill="#0e5a78" stroke="#12242c" stroke-width="1"/>
<polygon points="1702.57,389.64 1976.65,126.63 1976.65,131.06 1702.57,394.51" fill="#7d868e"/>
<line x1="1749.09" y1="351.66" x2="1749.09" y2="385.66" stroke="#0a3346" stroke-width="1.4"/>
<line x1="1795.61" y1="307.93" x2="1795.61" y2="341.93" stroke="#0a3346" stroke-width="1.4"/>
<line x1="1839.39" y1="266.77" x2="1839.39" y2="300.77" stroke="#0a3346" stroke-width="1.4"/>
<line x1="1883.17" y1="225.61" x2="1883.17" y2="259.61" stroke="#0a3346" stroke-width="1.4"/>
<line x1="1929.69" y1="181.88" x2="1929.69" y2="215.88" stroke="#0a3346" stroke-width="1.4"/>
<polygon points="1708.2,307.4 1931.1,81.6 1931.1,127.6 1708.2,353.4" fill="#3f4f74"/>
<polygon points="1830.6,44.6 1888.1,68.2 1888.1,156.52 1830.6,136.6" fill="#4371c1" stroke="#1d3464" stroke-width="1"/>
<polygon points="1834.62,46.25 1843.25,49.79 1843.25,141.79 1834.62,138.25" fill="#4472c4"/>
<polygon points="1845.55,58.1 1866.25,66.59 1866.25,147.55 1845.55,139.06" fill="#4675c6" stroke="#2b4c8c" stroke-width="0.8"/>
<line x1="1845.55" y1="83.86" x2="1866.25" y2="92.35" stroke="#2b4c8c" stroke-width="0.8"/>
<line x1="1832.9" y1="47.38" x2="1832.9" y2="137.4" stroke="#203f7a" stroke-width="0.9"/>
<line x1="1838.65" y1="49.74" x2="1838.65" y2="139.39" stroke="#203f7a" stroke-width="0.9"/>
<line x1="1843.25" y1="51.63" x2="1843.25" y2="140.98" stroke="#203f7a" stroke-width="0.9"/>
<line x1="1869.12" y1="62.25" x2="1869.12" y2="149.95" stroke="#203f7a" stroke-width="0.9"/>
<line x1="1872.57" y1="63.67" x2="1872.57" y2="151.14" stroke="#203f7a" stroke-width="0.9"/>
<line x1="1881.2" y1="67.21" x2="1881.2" y2="154.13" stroke="#203f7a" stroke-width="0.9"/>
<polygon points="1872.57,61.83 1888.1,68.2 1888.1,156.52 1872.57,151.07" fill="#4c7ccc" stroke="#1d3464" stroke-width="0.8"/>
<polygon points="1888.1,68.2 1931.1,29.6 1931.1,117.92 1888.1,156.52" fill="#2b3240" stroke="#1d3464" stroke-width="1"/>
<polygon points="1893.26,72.77 1910.46,57.33 1910.46,71.13 1893.26,88.41" fill="#8d929a"/>
<polygon points="1893.26,75.44 1910.46,57.33 1910.46,61.93 1893.26,83.81" fill="#31363f"/>
<polygon points="1894.98,84.1 1909.6,63.62 1909.6,67.3 1894.98,87.32" fill="#eef0f2"/>
<polygon points="1906.16,74.99 1908.74,72.67 1908.74,90.15 1906.16,92.47" fill="#7a3a90"/>
<polygon points="1891.97,92.33 1897.56,87.31 1897.56,93.75 1891.97,98.77" fill="#d2521e"/>
<polygon points="1890.25,112.18 1928.95,72.19 1928.95,83.33 1890.25,123.95" fill="#3a4a5a"/>
<polygon points="1892.4,116.14 1918.2,90.03 1918.2,111.47 1892.4,156.34" fill="#3c4632"/>
<polygon points="1899.6,117.7 1909.6,110.7 1914.1,114.7 1904.1,121.7" fill="#84e03a"/>
<polygon points="1888.1,71.14 1893.69,63.18 1893.69,155.18 1888.1,160.2" fill="#4e7ece" stroke="#1d3464" stroke-width="0.8"/>
<polygon points="1910.89,47.74 1919.06,40.41 1919.06,88.25 1910.89,98.34" fill="#5384d2" stroke="#1d3464" stroke-width="0.8"/>
<polygon points="1922.93,36.93 1931.1,29.6 1931.1,72.84 1922.93,82.93" fill="#4a79c8" stroke="#1d3464" stroke-width="0.8"/>
<polygon points="1888.1,68.2 1931.1,29.6 1931.1,37.7 1888.1,77.86" fill="#5686d6" stroke="#1d3464" stroke-width="0.7"/>
<polygon points="1830.6,44.6 1873.6,6 1931.1,29.6 1888.1,68.2" fill="#4f80d2" stroke="#1d3464" stroke-width="1.1" stroke-linejoin="round"/>
<polygon points="1835.34,43.73 1874.04,8.99 1904.22,21.38 1865.53,56.12" fill="#8d867b" stroke="#3a4258" stroke-width="0.7"/>
<polygon points="1865.1,58.76 1908.1,20.16 1931.1,29.6 1888.1,68.2" fill="#5a8ad8" stroke="#1d3464" stroke-width="0.8"/>
<line x1="1848.85" y1="49.28" x2="1887.55" y2="14.54" stroke="#6c665c" stroke-width="1.2"/>
<ellipse cx="1875.1" cy="34.74" rx="4.6" ry="3.3" fill="#3d66ae" stroke="#1c2c50" stroke-width="0.9" transform="rotate(20 1875.1 34.74)"/>
<ellipse cx="1875.1" cy="34.74" rx="2.4" ry="1.7" fill="#14203c"/>
<polygon points="1767.3,107 1824.8,130.6 1824.8,218.92 1767.3,199" fill="#4371c1" stroke="#1d3464" stroke-width="1"/>
<polygon points="1771.33,108.65 1779.95,112.19 1779.95,204.19 1771.33,200.65" fill="#4472c4"/>
<polygon points="1782.25,120.5 1802.95,128.99 1802.95,209.95 1782.25,201.46" fill="#4675c6" stroke="#2b4c8c" stroke-width="0.8"/>
<line x1="1782.25" y1="146.26" x2="1802.95" y2="154.75" stroke="#2b4c8c" stroke-width="0.8"/>
<line x1="1769.6" y1="109.78" x2="1769.6" y2="199.8" stroke="#203f7a" stroke-width="0.9"/>
<line x1="1775.35" y1="112.14" x2="1775.35" y2="201.79" stroke="#203f7a" stroke-width="0.9"/>
<line x1="1779.95" y1="114.03" x2="1779.95" y2="203.38" stroke="#203f7a" stroke-width="0.9"/>
<line x1="1805.83" y1="124.65" x2="1805.83" y2="212.35" stroke="#203f7a" stroke-width="0.9"/>
<line x1="1809.27" y1="126.07" x2="1809.27" y2="213.54" stroke="#203f7a" stroke-width="0.9"/>
<line x1="1817.9" y1="129.61" x2="1817.9" y2="216.53" stroke="#203f7a" stroke-width="0.9"/>
<polygon points="1809.27,124.23 1824.8,130.6 1824.8,218.92 1809.27,213.47" fill="#4c7ccc" stroke="#1d3464" stroke-width="0.8"/>
<polygon points="1824.8,130.6 1867.8,92 1867.8,180.32 1824.8,218.92" fill="#2b3240" stroke="#1d3464" stroke-width="1"/>
<polygon points="1829.96,135.17 1847.16,119.73 1847.16,133.53 1829.96,150.81" fill="#8d929a"/>
<polygon points="1829.96,137.84 1847.16,119.73 1847.16,124.33 1829.96,146.21" fill="#31363f"/>
<polygon points="1831.68,146.5 1846.3,126.02 1846.3,129.7 1831.68,149.72" fill="#eef0f2"/>
<polygon points="1842.86,137.39 1845.44,135.07 1845.44,152.55 1842.86,154.87" fill="#7a3a90"/>
<polygon points="1828.67,154.73 1834.26,149.71 1834.26,156.15 1828.67,161.17" fill="#d2521e"/>
<polygon points="1826.95,174.58 1865.65,134.59 1865.65,145.73 1826.95,186.35" fill="#3a4a5a"/>
<polygon points="1829.1,178.54 1854.9,152.43 1854.9,173.87 1829.1,218.74" fill="#3c4632"/>
<polygon points="1836.3,180.1 1846.3,173.1 1850.8,177.1 1840.8,184.1" fill="#84e03a"/>
<polygon points="1824.8,133.54 1830.39,125.58 1830.39,217.58 1824.8,222.6" fill="#4e7ece" stroke="#1d3464" stroke-width="0.8"/>
<polygon points="1847.59,110.14 1855.76,102.81 1855.76,150.65 1847.59,160.74" fill="#5384d2" stroke="#1d3464" stroke-width="0.8"/>
<polygon points="1859.63,99.33 1867.8,92 1867.8,135.24 1859.63,145.33" fill="#4a79c8" stroke="#1d3464" stroke-width="0.8"/>
<polygon points="1824.8,130.6 1867.8,92 1867.8,100.1 1824.8,140.26" fill="#5686d6" stroke="#1d3464" stroke-width="0.7"/>
<polygon points="1767.3,107 1810.3,68.4 1867.8,92 1824.8,130.6" fill="#4f80d2" stroke="#1d3464" stroke-width="1.1" stroke-linejoin="round"/>
<polygon points="1772.04,106.13 1810.74,71.39 1840.92,83.78 1802.23,118.52" fill="#8d867b" stroke="#3a4258" stroke-width="0.7"/>
<polygon points="1801.8,121.16 1844.8,82.56 1867.8,92 1824.8,130.6" fill="#5a8ad8" stroke="#1d3464" stroke-width="0.8"/>
<line x1="1785.55" y1="111.68" x2="1824.25" y2="76.94" stroke="#6c665c" stroke-width="1.2"/>
<ellipse cx="1811.8" cy="97.14" rx="4.6" ry="3.3" fill="#3d66ae" stroke="#1c2c50" stroke-width="0.9" transform="rotate(20 1811.8 97.14)"/>
<ellipse cx="1811.8" cy="97.14" rx="2.4" ry="1.7" fill="#14203c"/>
<polygon points="1704,169.4 1761.5,193 1761.5,281.32 1704,261.4" fill="#4371c1" stroke="#1d3464" stroke-width="1"/>
<polygon points="1708.03,171.05 1716.65,174.59 1716.65,266.59 1708.03,263.05" fill="#4472c4"/>
<polygon points="1718.95,182.9 1739.65,191.39 1739.65,272.35 1718.95,263.86" fill="#4675c6" stroke="#2b4c8c" stroke-width="0.8"/>
<line x1="1718.95" y1="208.66" x2="1739.65" y2="217.15" stroke="#2b4c8c" stroke-width="0.8"/>
<line x1="1706.3" y1="172.18" x2="1706.3" y2="262.2" stroke="#203f7a" stroke-width="0.9"/>
<line x1="1712.05" y1="174.54" x2="1712.05" y2="264.19" stroke="#203f7a" stroke-width="0.9"/>
<line x1="1716.65" y1="176.43" x2="1716.65" y2="265.78" stroke="#203f7a" stroke-width="0.9"/>
<line x1="1742.53" y1="187.05" x2="1742.53" y2="274.75" stroke="#203f7a" stroke-width="0.9"/>
<line x1="1745.97" y1="188.47" x2="1745.97" y2="275.94" stroke="#203f7a" stroke-width="0.9"/>
<line x1="1754.6" y1="192.01" x2="1754.6" y2="278.93" stroke="#203f7a" stroke-width="0.9"/>
<polygon points="1745.97,186.63 1761.5,193 1761.5,281.32 1745.97,275.87" fill="#4c7ccc" stroke="#1d3464" stroke-width="0.8"/>
<polygon points="1761.5,193 1804.5,154.4 1804.5,242.72 1761.5,281.32" fill="#2b3240" stroke="#1d3464" stroke-width="1"/>
<polygon points="1766.66,197.57 1783.86,182.13 1783.86,195.93 1766.66,213.21" fill="#8d929a"/>
<polygon points="1766.66,200.24 1783.86,182.13 1783.86,186.73 1766.66,208.61" fill="#31363f"/>
<polygon points="1768.38,208.9 1783,188.42 1783,192.1 1768.38,212.12" fill="#eef0f2"/>
<polygon points="1779.56,199.79 1782.14,197.47 1782.14,214.95 1779.56,217.27" fill="#7a3a90"/>
<polygon points="1765.37,217.13 1770.96,212.11 1770.96,218.55 1765.37,223.57" fill="#d2521e"/>
<polygon points="1763.65,236.98 1802.35,196.99 1802.35,208.13 1763.65,248.75" fill="#3a4a5a"/>
<polygon points="1765.8,240.94 1791.6,214.83 1791.6,236.27 1765.8,281.14" fill="#3c4632"/>
<polygon points="1773,242.5 1783,235.5 1787.5,239.5 1777.5,246.5" fill="#84e03a"/>
<polygon points="1761.5,195.94 1767.09,187.98 1767.09,279.98 1761.5,285" fill="#4e7ece" stroke="#1d3464" stroke-width="0.8"/>
<polygon points="1784.29,172.54 1792.46,165.21 1792.46,213.05 1784.29,223.14" fill="#5384d2" stroke="#1d3464" stroke-width="0.8"/>
<polygon points="1796.33,161.73 1804.5,154.4 1804.5,197.64 1796.33,207.73" fill="#4a79c8" stroke="#1d3464" stroke-width="0.8"/>
<polygon points="1761.5,193 1804.5,154.4 1804.5,162.5 1761.5,202.66" fill="#5686d6" stroke="#1d3464" stroke-width="0.7"/>
<polygon points="1704,169.4 1747,130.8 1804.5,154.4 1761.5,193" fill="#4f80d2" stroke="#1d3464" stroke-width="1.1" stroke-linejoin="round"/>
<polygon points="1708.74,168.53 1747.44,133.79 1777.62,146.18 1738.93,180.92" fill="#8d867b" stroke="#3a4258" stroke-width="0.7"/>
<polygon points="1738.5,183.56 1781.5,144.96 1804.5,154.4 1761.5,193" fill="#5a8ad8" stroke="#1d3464" stroke-width="0.8"/>
<line x1="1722.25" y1="174.08" x2="1760.95" y2="139.34" stroke="#6c665c" stroke-width="1.2"/>
<ellipse cx="1748.5" cy="159.54" rx="4.6" ry="3.3" fill="#3d66ae" stroke="#1c2c50" stroke-width="0.9" transform="rotate(20 1748.5 159.54)"/>
<ellipse cx="1748.5" cy="159.54" rx="2.4" ry="1.7" fill="#14203c"/>
<polygon points="1640.7,231.8 1698.2,255.4 1698.2,343.72 1640.7,323.8" fill="#4371c1" stroke="#1d3464" stroke-width="1"/>
<polygon points="1644.73,233.45 1653.35,236.99 1653.35,328.99 1644.73,325.45" fill="#4472c4"/>
<polygon points="1655.65,245.3 1676.35,253.79 1676.35,334.75 1655.65,326.26" fill="#4675c6" stroke="#2b4c8c" stroke-width="0.8"/>
<line x1="1655.65" y1="271.06" x2="1676.35" y2="279.55" stroke="#2b4c8c" stroke-width="0.8"/>
<line x1="1643" y1="234.58" x2="1643" y2="324.6" stroke="#203f7a" stroke-width="0.9"/>
<line x1="1648.75" y1="236.94" x2="1648.75" y2="326.59" stroke="#203f7a" stroke-width="0.9"/>
<line x1="1653.35" y1="238.83" x2="1653.35" y2="328.18" stroke="#203f7a" stroke-width="0.9"/>
<line x1="1679.23" y1="249.45" x2="1679.23" y2="337.15" stroke="#203f7a" stroke-width="0.9"/>
<line x1="1682.67" y1="250.87" x2="1682.67" y2="338.34" stroke="#203f7a" stroke-width="0.9"/>
<line x1="1691.3" y1="254.41" x2="1691.3" y2="341.33" stroke="#203f7a" stroke-width="0.9"/>
<polygon points="1682.67,249.03 1698.2,255.4 1698.2,343.72 1682.67,338.27" fill="#4c7ccc" stroke="#1d3464" stroke-width="0.8"/>
<polygon points="1698.2,255.4 1741.2,216.8 1741.2,305.12 1698.2,343.72" fill="#2b3240" stroke="#1d3464" stroke-width="1"/>
<polygon points="1703.36,259.97 1720.56,244.53 1720.56,258.33 1703.36,275.61" fill="#8d929a"/>
<polygon points="1703.36,262.64 1720.56,244.53 1720.56,249.13 1703.36,271.01" fill="#31363f"/>
<polygon points="1705.08,271.3 1719.7,250.82 1719.7,254.5 1705.08,274.52" fill="#eef0f2"/>
<polygon points="1716.26,262.19 1718.84,259.87 1718.84,277.35 1716.26,279.67" fill="#7a3a90"/>
<polygon points="1702.07,279.53 1707.66,274.51 1707.66,280.95 1702.07,285.97" fill="#d2521e"/>
<polygon points="1700.35,299.38 1739.05,259.39 1739.05,270.53 1700.35,311.15" fill="#3a4a5a"/>
<polygon points="1702.5,303.34 1728.3,277.23 1728.3,298.67 1702.5,343.54" fill="#3c4632"/>
<polygon points="1709.7,304.9 1719.7,297.9 1724.2,301.9 1714.2,308.9" fill="#84e03a"/>
<polygon points="1698.2,258.34 1703.79,250.38 1703.79,342.38 1698.2,347.4" fill="#4e7ece" stroke="#1d3464" stroke-width="0.8"/>
<polygon points="1720.99,234.94 1729.16,227.61 1729.16,275.45 1720.99,285.54" fill="#5384d2" stroke="#1d3464" stroke-width="0.8"/>
<polygon points="1733.03,224.13 1741.2,216.8 1741.2,260.04 1733.03,270.13" fill="#4a79c8" stroke="#1d3464" stroke-width="0.8"/>
<polygon points="1698.2,255.4 1741.2,216.8 1741.2,224.9 1698.2,265.06" fill="#5686d6" stroke="#1d3464" stroke-width="0.7"/>
<polygon points="1640.7,231.8 1683.7,193.2 1741.2,216.8 1698.2,255.4" fill="#4f80d2" stroke="#1d3464" stroke-width="1.1" stroke-linejoin="round"/>
<polygon points="1645.44,230.93 1684.14,196.19 1714.33,208.58 1675.63,243.32" fill="#8d867b" stroke="#3a4258" stroke-width="0.7"/>
<polygon points="1675.2,245.96 1718.2,207.36 1741.2,216.8 1698.2,255.4" fill="#5a8ad8" stroke="#1d3464" stroke-width="0.8"/>
<line x1="1658.95" y1="236.48" x2="1697.65" y2="201.74" stroke="#6c665c" stroke-width="1.2"/>
<ellipse cx="1685.2" cy="221.94" rx="4.6" ry="3.3" fill="#3d66ae" stroke="#1c2c50" stroke-width="0.9" transform="rotate(20 1685.2 221.94)"/>
<ellipse cx="1685.2" cy="221.94" rx="2.4" ry="1.7" fill="#14203c"/>
<polygon points="1692.83,340.05 1939.46,105.38 1976.65,124.86 1976.65,128.4 1702.57,390.08" fill="#747a82" stroke="#2a2e34" stroke-width="1"/>
<line x1="1700.05" y1="335.82" x2="1942.13" y2="107.33" stroke="#3a3f46" stroke-width="2.6"/>
<line x1="1700.26" y1="340.39" x2="1945" y2="109.03" stroke="#a9aeb4" stroke-width="2.4"/>
<line x1="1700.45" y1="344.39" x2="1947.51" y2="110.52" stroke="#33373e" stroke-width="2.4"/>
<line x1="1700.69" y1="349.53" x2="1950.74" y2="112.43" stroke="#b9bec3" stroke-width="2.6"/>
<line x1="1700.9" y1="354.1" x2="1953.61" y2="114.13" stroke="#33373e" stroke-width="2.6"/>
<line x1="1701.14" y1="359.24" x2="1956.84" y2="116.04" stroke="#a6abb1" stroke-width="2.6"/>
<line x1="1701.38" y1="364.38" x2="1960.07" y2="117.95" stroke="#2e3238" stroke-width="2.6"/>
<line x1="1701.62" y1="369.52" x2="1963.29" y2="119.87" stroke="#b4b9bf" stroke-width="2.4"/>
<line x1="1701.83" y1="374.09" x2="1966.16" y2="121.57" stroke="#363a41" stroke-width="2.4"/>
<line x1="1702.07" y1="379.23" x2="1969.39" y2="123.48" stroke="#a4a9af" stroke-width="2.6"/>
<line x1="1702.31" y1="384.37" x2="1972.62" y2="125.39" stroke="#3a3f46" stroke-width="2.2"/>
<line x1="1702.49" y1="388.37" x2="1975.13" y2="126.88" stroke="#a9aeb4" stroke-width="1.6"/>
<polygon points="1727.2,293.4 1749.2,272.4 1759.2,288.4 1738.2,310.4" fill="#3b3536"/>
<polygon points="1731.2,291.4 1743.2,280.4 1748.2,288.4 1736.2,299.4" fill="#5a4a48"/>
<polygon points="1736.2,310.4 1741.2,306.4 1745.2,311.4 1740.2,315.9" fill="#2fb4d8"/>
<line x1="1751.2" y1="284.9" x2="1776.2" y2="295.4" stroke="#24282e" stroke-width="7.4"/>
<line x1="1751.7" y1="284.4" x2="1775.7" y2="294.6" stroke="#8fbccc" stroke-width="4.8"/>
<polygon points="1790.5,231 1812.5,210 1822.5,226 1801.5,248" fill="#3b3536"/>
<polygon points="1794.5,229 1806.5,218 1811.5,226 1799.5,237" fill="#5a4a48"/>
<polygon points="1799.5,248 1804.5,244 1808.5,249 1803.5,253.5" fill="#2fb4d8"/>
<line x1="1814.5" y1="222.5" x2="1839.5" y2="233" stroke="#24282e" stroke-width="7.4"/>
<line x1="1815" y1="222" x2="1839" y2="232.2" stroke="#8fbccc" stroke-width="4.8"/>
<polygon points="1853.8,168.6 1875.8,147.6 1885.8,163.6 1864.8,185.6" fill="#3b3536"/>
<polygon points="1857.8,166.6 1869.8,155.6 1874.8,163.6 1862.8,174.6" fill="#5a4a48"/>
<polygon points="1862.8,185.6 1867.8,181.6 1871.8,186.6 1866.8,191.1" fill="#2fb4d8"/>
<line x1="1877.8" y1="160.1" x2="1902.8" y2="170.6" stroke="#24282e" stroke-width="7.4"/>
<line x1="1878.3" y1="159.6" x2="1902.3" y2="169.8" stroke="#8fbccc" stroke-width="4.8"/>
<polygon points="1917.1,106.2 1939.1,85.2 1949.1,101.2 1928.1,123.2" fill="#3b3536"/>
<polygon points="1921.1,104.2 1933.1,93.2 1938.1,101.2 1926.1,112.2" fill="#5a4a48"/>
<polygon points="1926.1,123.2 1931.1,119.2 1935.1,124.2 1930.1,128.7" fill="#2fb4d8"/>
<line x1="1941.1" y1="97.7" x2="1966.1" y2="108.2" stroke="#24282e" stroke-width="7.4"/>
<line x1="1941.6" y1="97.2" x2="1965.6" y2="107.4" stroke="#8fbccc" stroke-width="4.8"/>
<polygon points="1640.42,290 1700.28,290 1700.28,349.15 1640.42,332.25" fill="#4371c1"/>
<polygon points="1677.04,336.48 1712.25,335.07 1712.25,363.24 1678.45,351.97" fill="#8d9299"/>
<polygon points="1682.68,339.3 1685.77,340 1685.77,351.97 1682.68,350.56" fill="#3a3e45"/>
<polygon points="1689.72,339.3 1692.82,340 1692.82,351.97 1689.72,350.56" fill="#3a3e45"/>
<polygon points="1696.76,339.3 1699.86,340 1699.86,351.97 1696.76,350.56" fill="#3a3e45"/>
<polygon points="1640.42,325.21 1700.28,342.11 1700.28,349.15 1640.42,332.25" fill="#3a66b4"/>
<line x1="1653.1" y1="290" x2="1653.1" y2="324.93" stroke="#203f7a" stroke-width="0.9"/>
<line x1="1673.52" y1="290" x2="1673.52" y2="329.01" stroke="#203f7a" stroke-width="0.9"/>
<line x1="1679.15" y1="290" x2="1679.15" y2="330.14" stroke="#203f7a" stroke-width="0.9"/>
<line x1="1689.72" y1="290" x2="1689.72" y2="332.25" stroke="#203f7a" stroke-width="0.9"/>
<polygon points="1631.97,301.97 1636.2,300.56 1712.25,332.25 1712.25,337.18 1708.03,338.59 1631.97,307.61" fill="#2b2e34"/>
<polygon points="1577.75,341.41 1655.92,370.28 1655.92,412.54 1577.04,380.14" fill="#a7acb2" stroke="#26292e" stroke-width="1.2"/>
<polygon points="1582.68,349.15 1593.24,353.38 1593.24,375.92 1582.68,377.32" fill="#4d5157"/>
<polygon points="1595.35,356.2 1654.51,380.14 1654.51,384.37 1595.35,360.42" fill="#a9bd98"/>
<polygon points="1585.49,374.51 1596.06,363.94 1599.58,366.06 1589.01,377.32" fill="#e6cfa4"/>
<polygon points="1616.48,366.76 1637.61,373.1 1636.2,375.21 1615.77,368.87" fill="#f0d9b0"/>
<polygon points="1615.07,363.24 1622.11,365.35 1621.41,367.46 1614.79,365.77" fill="#3fc08a"/>
<polygon points="1591.13,377.32 1654.51,402.68 1654.51,407.61 1578.45,380.14" fill="#b4b8bd"/>
<polygon points="1577.04,378.03 1655.92,407.61 1655.92,412.54 1577.04,380.85" fill="#26292e"/>
<polygon points="1577.75,341.41 1655.92,370.28 1655.92,375.63 1577.75,346.06" fill="#30333a"/>
<polygon points="1654.51,370.99 1658.03,371.69 1658.03,413.94 1654.51,412.82" fill="#3a3d44"/>
<polygon points="1577.04,341.41 1580.56,342.11 1580.56,380.14 1577.04,379.58" fill="#3a3d44"/>
<ellipse cx="1584.08" cy="384.37" rx="4" ry="2.5" fill="#24272b"/>
<ellipse cx="1653.38" cy="413.94" rx="4" ry="2.5" fill="#24272b"/>
<polygon points="1577.75,341.41 1609.44,312.54 1678.45,341.41 1655.92,370.28" fill="#5b5f66" stroke="#26292e" stroke-width="1.6"/>
<polygon points="1593.24,338.59 1610.85,320.28 1633.38,330.85 1615.07,348.45" fill="#a9bd98"/>
<polygon points="1598.17,337.89 1610.85,325.21 1626.34,332.25 1614.37,344.23" fill="#b7c8a8"/>
<polygon points="1639.01,349.15 1653.1,337.18 1671.41,344.23 1655.92,357.61" fill="#b0c2a0"/>
<polygon points="1630.56,332.25 1643.24,332.25 1643.24,346.34 1631.97,346.34" fill="#6a6580"/>
<polygon points="1648.87,330.14 1655.92,328.73 1661.55,331.55 1654.51,335.07" fill="#e0151c"/>
<polygon points="1665.77,337.18 1671.41,335.77 1677.04,339.3 1670.7,342.82" fill="#b81a22"/>
<polygon points="1623.52,353.38 1631.97,351.27 1636.9,356.2 1627.75,359.01" fill="#e0151c"/>
<polygon points="1640.42,360.42 1648.87,358.31 1655.21,363.24 1646.06,366.76" fill="#e8151c"/>
<polygon points="1616.48,347.75 1619.3,346.34 1654.51,363.24 1653.1,366.06" fill="#2b2e34"/>
<polygon points="1655.21,370.99 1677.75,341.83 1689.72,349.15 1662.96,374.51" fill="#6f747c"/>
<polygon points="1660.14,373.1 1678.45,351.97 1712.25,363.24 1698.17,388.59" fill="#9aa0a6" stroke="#26292e" stroke-width="1"/>
<polygon points="1667.18,360.42 1681.27,351.27 1695.35,356.9 1682.68,367.46" fill="#86b4cc" stroke="#2a3d4a" stroke-width="0.8"/>
<polygon points="1685.49,349.15 1712.25,332.25 1719.3,336.48 1696.76,356.2" fill="#858c93"/>
<line x1="1693.94" y1="368.87" x2="1712.25" y2="354.79" stroke="#c0c5ca" stroke-width="1.6"/>
<line x1="1697.46" y1="367.75" x2="1715.77" y2="353.66" stroke="#2e3238" stroke-width="1.6"/>
<line x1="1700.99" y1="366.62" x2="1719.3" y2="352.54" stroke="#c0c5ca" stroke-width="1.6"/>
<line x1="1704.51" y1="365.49" x2="1722.82" y2="351.41" stroke="#2e3238" stroke-width="1.6"/>
<polygon points="1678.45,368.87 1686.9,366.76 1689.72,373.1 1681.27,375.21" fill="#2b2e34"/>
<polygon points="1658.03,371.69 1698.17,388.59 1698.17,425.92 1658.03,414.65" fill="#8e8a84" stroke="#26292e" stroke-width="1.2"/>
<polygon points="1661.55,380.14 1695.35,393.52 1695.35,422.39 1661.55,412.54" fill="#8a857e" stroke="#4a4a48" stroke-width="0.7"/>
<polygon points="1698.17,388.59 1740,350.56 1740,388.59 1698.17,425.92" fill="#0e5a78" stroke="#12242c" stroke-width="1"/>
<polygon points="1698.17,388.59 1712.25,375.92 1712.25,380.14 1700.28,390.7" fill="#2a3a44"/>
<rect x="1712.25" y="413.94" width="2.82" height="11.97" fill="#2a2d32"/>
<ellipse cx="1713.66" cy="426.34" rx="4" ry="2" fill="#24272b"/>
<ellipse cx="1663.66" cy="417.46" rx="4.5" ry="2.5" fill="#24272b"/>
<polygon points="1898.18,300.69 1961.04,239.09 2001.02,252.92 2001.02,335.9 1986.19,337.15" fill="#a4be86" stroke="#4a5a40" stroke-width="1"/>
<polygon points="1898.18,300.69 1986.19,335.9 1986.19,342.18 1898.18,306.48" fill="#2468e0"/>
<polygon points="1898.18,306.48 1986.19,342.18 1986.19,383.67 1898.18,396.24" fill="#8fb070" stroke="#3f5a30" stroke-width="1"/>
<polygon points="1903.21,320.81 1938.41,335.39 1938.41,381.16 1903.21,373.61" fill="#8c8c8e" stroke="#4a5a40" stroke-width="0.8"/>
<polygon points="1943.44,337.91 1978.64,352.49 1978.64,381.16 1943.44,381.16" fill="#8c8c8e" stroke="#4a5a40" stroke-width="0.8"/>
<polygon points="1983.67,337.15 1992.47,333.88 1992.47,386.19 1983.67,384.17" fill="#1a1aa0"/>
<polygon points="1986.19,335.9 2001.02,322.07 2001.02,330.87 1986.69,343.44" fill="#2055d8"/>
<polygon points="1992.47,333.88 2001.02,330.87 2001.02,391.21 1992.47,388.7" fill="#8fb070"/>
<polygon points="1994.23,345.95 2001.02,343.44 2001.02,389.96 1994.23,387.44" fill="#8a8c8c"/>
<polygon points="1903.21,283.09 1945.95,245.38 1953.5,249.15 1905.72,293.15" fill="#7e8790" stroke="#2a2d32" stroke-width="0.8"/>
<polygon points="1879.32,352.99 1897.68,335.39 1897.68,362.55" fill="#1fe23a"/>
<polygon points="1803.89,425.16 1878.06,353.5 1898.18,361.54 1905.72,396.24 1880.58,430.19 1805.14,430.19" fill="#a1a4a8" stroke="#3a3d42" stroke-width="1"/>
<polygon points="1844.12,390.71 1854.18,380.65 1866.75,385.68 1856.69,395.74" fill="#2e3136"/>
<polygon points="1827.77,405.8 1837.83,395.74 1850.4,400.77 1840.35,410.83" fill="#2e3136"/>
<polygon points="1812.69,420.89 1822.75,410.83 1835.32,415.86 1825.26,425.91" fill="#2e3136"/>
<polygon points="1861.72,404.54 1871.78,394.48 1884.35,399.51 1874.29,409.57" fill="#2e3136"/>
<polygon points="1851.66,418.37 1861.72,408.31 1874.29,413.34 1864.23,423.4" fill="#2e3136"/>
<polygon points="1862.98,366.07 1880.58,356.01 1895.67,363.05 1878.06,381.16" fill="#9b9ea2" stroke="#3a3d42" stroke-width="0.8"/>
<polygon points="1873.03,428.93 1933.38,365.57 2001.02,391.21 2001.02,428.93" fill="#a3a5a8" stroke="#6a6d70" stroke-width="0.8"/>
<path d="M1942 427.5L1966 407L1996 418L1984 427.5" fill="none" stroke="#4a4c50" stroke-width="1.6"/>
<path d="M1950 427.5L1968 412L1988 420" fill="none" stroke="#3a3c40" stroke-width="1.2"/>
<rect x="1961.2" y="401" width="15.8" height="29" fill="#2e3033" rx="5"/>
<ellipse cx="1969" cy="404.5" rx="7.9" ry="4.2" fill="#3b3d41"/>
<polygon points="1824.76,356.01 1830.29,352.99 1850.4,361.54 1850.4,373.61 1845.88,374.87 1824.76,365.57" fill="#6f7377" stroke="#2a2d32" stroke-width="0.8"/>
<polygon points="1984.2,215.24 1995.92,218.56 1994.82,231.83 1984.2,228.52" fill="#9a9ea2" stroke="#3a3d42" stroke-width="0.8"/>
<polygon points="1926.22,200.85 1935.07,193.11 1943.92,192 1957.2,175.41 1962.73,185.36 1947.24,200.85 1937.28,211.92 1928.43,208.6" fill="#c65c14" stroke="#8a3a08" stroke-width="1"/>
<polygon points="1925.78,199.75 1935.07,194.22 1940.6,204.17 1932.86,211.92 1927.32,207.49" fill="#b5500f" stroke="#3a1a06" stroke-width="1"/>
<polygon points="1952.77,173.19 1961.62,161.02 1974.9,162.13 1980.43,177.62 1974.9,189.79 1961.62,192 1952.77,184.26" fill="#e8761e" stroke="#8a3a08" stroke-width="1"/>
<polygon points="1955.43,173.19 1962.73,163.9 1972.69,164.78 1966.05,175.41" fill="#f29344"/>
<polygon points="1947.24,192 1959.85,192 1958.97,207.49 1966.49,213.03 1961.62,225.2 1950.56,222.32 1944.36,208.6" fill="#e06c1a" stroke="#8a3a08" stroke-width="1"/>
<polygon points="1971.14,198.64 1982.65,197.98 1983.09,212.58 1971.14,213.47" fill="#ea7a24" stroke="#8a3a08" stroke-width="1"/>
<polygon points="1952.77,211.25 1970.48,209.04 1984.2,213.47 1985.08,228.96 1975.34,237.81 1959.41,235.6 1952.33,224.53" fill="#e8761e" stroke="#8a3a08" stroke-width="1"/>
<polygon points="1956.09,214.13 1969.37,212.58 1972.69,224.09 1961.62,227.41 1955.43,221.88" fill="#f29344"/>
<polygon points="1961.62,227.41 1974.9,225.2 1984.2,228.52 1975.34,237.37 1959.85,235.15" fill="#c65c14"/>
<polygon points="1880.85,240.69 1893.03,237.37 1899,244.01 1896.34,251.75 1886.39,255.07 1880.19,249.54" fill="#b5500f" stroke="#3a1a06" stroke-width="1"/>
<polygon points="1873.11,257.28 1886.39,246.66 1893.03,250.64 1879.31,264.36" fill="#c65c14" stroke="#8a3a08" stroke-width="1"/>
<path d="M1872.67 276.76 C1886.39 274.99 1886.39 290.48 1877.09 297.56" fill="none" stroke="#25201c" stroke-width="1.8"/>
<polygon points="1846.55,272.33 1857.62,261.71 1873.11,263.48 1875.76,277.64 1869.13,290.92 1853.19,290.92 1843.24,282.07" fill="#e8761e" stroke="#8a3a08" stroke-width="1"/>
<polygon points="1849.87,272.77 1858.73,264.36 1870.45,266.13 1864.26,276.09" fill="#f29344"/>
<polygon points="1863.82,290.48 1874.44,284.28 1875.76,330.75 1864.26,335.18" fill="#e06c1a" stroke="#8a3a08" stroke-width="1"/>
<polygon points="1865.36,292.69 1869.13,290.48 1870.01,332.52 1865.59,334.29" fill="#f29344"/>
<polygon points="1836.6,317.03 1844.34,311.5 1864.26,317.03 1876.65,324.11 1875.32,337.39 1862.04,352.88 1842.13,350.22 1835.49,335.18" fill="#e8761e" stroke="#8a3a08" stroke-width="1"/>
<polygon points="1838.81,318.14 1845.45,314.37 1856.51,318.14 1853.19,339.16 1841.02,345.8 1837.26,334.73" fill="#c65c14"/>
<polygon points="1853.19,323.67 1864.26,320.35 1874.22,325.88 1864.26,345.8 1855.41,348.01" fill="#f29344"/>
<path d="M1835.93 334.73 L1842.13 350.67 L1862.04 353.1" fill="none" stroke="#2a1a10" stroke-width="1.6"/>
</g>
</g>
<g id="shapes">
<rect x="66.6" y="250.8" width="199.6" height="75.8" fill="#fff" stroke="#e3141c" stroke-width="2"/>
<rect x="65.6" y="336.2" width="201.6" height="74.6" fill="#fff" stroke="#e3141c" stroke-width="2"/>
<rect x="68.9" y="601.2" width="197.9" height="75.4" fill="#fff" stroke="#e3141c" stroke-width="2"/>
<rect x="66.2" y="692.4" width="201.8" height="74.2" fill="#fff" stroke="#e3141c" stroke-width="2"/>
<rect x="900.9" y="354" width="456.1" height="60.5" fill="#fff" stroke="#000" stroke-width="2"/>
<rect x="950" y="732.2" width="381.8" height="60.1" fill="#fff" stroke="#000" stroke-width="2"/>
<rect x="741" y="428.3" width="117.3" height="44.2" fill="#fff" stroke="#000" stroke-width="2"/>
<rect x="907" y="428.3" width="165" height="44.2" fill="#fff" stroke="#000" stroke-width="2"/>
<rect x="1124" y="428.3" width="190" height="44.2" fill="#fff" stroke="#000" stroke-width="2"/>
<rect x="1366.8" y="428.3" width="189.5" height="44.2" fill="#fff" stroke="#000" stroke-width="2"/>
<path d="M858.5 450L904.8 450M891.1 457.9L904.8 450L891.1 442.1" fill="none" stroke="#000" stroke-width="2.1" stroke-linejoin="miter" stroke-linecap="butt"/>
<path d="M1072.2 450L1121.8 450M1108.1 457.9L1121.8 450L1108.1 442.1" fill="none" stroke="#000" stroke-width="2.1" stroke-linejoin="miter" stroke-linecap="butt"/>
<path d="M1314.3 450L1364.6 450M1350.9 457.9L1364.6 450L1350.9 442.1" fill="none" stroke="#000" stroke-width="2.1" stroke-linejoin="miter" stroke-linecap="butt"/>
<rect x="734.3" y="523.3" width="130.2" height="44.5" fill="#fff" stroke="#000" stroke-width="2"/>
<rect x="1397.8" y="520.9" width="130.8" height="45.3" fill="#fff" stroke="#000" stroke-width="2"/>
<path d="M798.8 522.5L798.8 474.7M806.7 488.4L798.8 474.7L790.9 488.4" fill="none" stroke="#000" stroke-width="2.1" stroke-linejoin="miter" stroke-linecap="butt"/>
<path d="M1461.6 520.5L1461.21 474.7M1469.22 488.33L1461.21 474.7L1453.42 488.47" fill="none" stroke="#000" stroke-width="2.1" stroke-linejoin="miter" stroke-linecap="butt"/>
<rect x="1039" y="649.9" width="190.3" height="44.8" fill="#fff" stroke="#000" stroke-width="2"/>
<path d="M795 568.5 C795 590 796.5 607.3 803 607.3 H1123 C1129 607.3 1131.2 625 1131.2 647.5 C1131.2 625 1133.5 607.3 1139.5 607.3 H1459 C1465.5 607.3 1467 589 1467 567" fill="none" stroke="#000" stroke-width="2"/>
<rect x="752.7" y="804" width="125.3" height="75" fill="#fff" stroke="#4a7ab8" stroke-width="1.6"/>
<rect x="919" y="804" width="143.3" height="75" fill="#fff" stroke="#4a7ab8" stroke-width="1.6"/>
<rect x="1102.7" y="804" width="171.4" height="75" fill="#fff" stroke="#4a7ab8" stroke-width="1.6"/>
<rect x="1315.8" y="804" width="238.6" height="75" fill="#fff" stroke="#4a7ab8" stroke-width="1.6"/>
<path d="M878.2 840.7L916.8 840.7M903.1 848.6L916.8 840.7L903.1 832.8" fill="none" stroke="#000" stroke-width="2.1" stroke-linejoin="miter" stroke-linecap="butt"/>
<path d="M1062.5 840.7L1101 840.7M1087.3 848.6L1101 840.7L1087.3 832.8" fill="none" stroke="#000" stroke-width="2.1" stroke-linejoin="miter" stroke-linecap="butt"/>
<path d="M1274.2 840.7L1313.8 840.7M1300.1 848.6L1313.8 840.7L1300.1 832.8" fill="none" stroke="#000" stroke-width="2.1" stroke-linejoin="miter" stroke-linecap="butt"/>
</g>
<g id="badges">
<ellipse cx="476.5" cy="281" rx="25.8" ry="25.8" fill="#db5243" stroke="#6a84b4" stroke-width="1.8" filter="url(#sh)"/>
<text x="476.5" y="292.6" font-size="33" text-anchor="middle" fill="#000">G</text>
<ellipse cx="475.8" cy="462" rx="25.8" ry="25.8" fill="#db5243" stroke="#6a84b4" stroke-width="1.8" filter="url(#sh)"/>
<text x="475.8" y="473.6" font-size="33" text-anchor="middle" fill="#000">G</text>
<ellipse cx="528.6" cy="493" rx="25.8" ry="25.8" fill="#db5243" stroke="#6a84b4" stroke-width="1.8" filter="url(#sh)"/>
<text x="528.6" y="504.6" font-size="33" text-anchor="middle" fill="#000">G</text>
<ellipse cx="530.9" cy="548" rx="25.8" ry="25.8" fill="#db5243" stroke="#6a84b4" stroke-width="1.8" filter="url(#sh)"/>
<text x="530.9" y="559.6" font-size="33" text-anchor="middle" fill="#000">G</text>
<ellipse cx="475" cy="634" rx="25.8" ry="25.8" fill="#db5243" stroke="#6a84b4" stroke-width="1.8" filter="url(#sh)"/>
<text x="475" y="645.6" font-size="33" text-anchor="middle" fill="#000">G</text>
<ellipse cx="470.5" cy="813.4" rx="25.8" ry="25.8" fill="#db5243" stroke="#6a84b4" stroke-width="1.8" filter="url(#sh)"/>
<text x="470.5" y="825" font-size="33" text-anchor="middle" fill="#000">G</text>
<ellipse cx="670.7" cy="434" rx="27" ry="27" fill="#92d050" stroke="#6a84b4" stroke-width="1.8" filter="url(#sh)"/>
<text x="670.7" y="445.6" font-size="33" text-anchor="middle" fill="#000">F</text>
<ellipse cx="672.7" cy="592" rx="27" ry="27" fill="#92d050" stroke="#6a84b4" stroke-width="1.8" filter="url(#sh)"/>
<text x="672.7" y="603.6" font-size="33" text-anchor="middle" fill="#000">F</text>
<ellipse cx="725.3" cy="136.7" rx="26.4" ry="24.8" fill="#d9494a" stroke="#6a84b4" stroke-width="1.8" filter="url(#sh)"/>
<text x="725.3" y="148.3" font-size="33" text-anchor="middle" fill="#000">G</text>
<ellipse cx="727.2" cy="196.8" rx="26.8" ry="25.6" fill="#92d050" stroke="#6a84b4" stroke-width="1.8" filter="url(#sh)"/>
<text x="727.2" y="208.4" font-size="33" text-anchor="middle" fill="#000">F</text>
<rect x="712.3" y="234.5" width="29.4" height="44.1" fill="#0cacf0" stroke="#2d94dc" stroke-width="0.8" filter="url(#sh)"/>
<rect x="710.3" y="288.9" width="28.8" height="42.1" fill="#92d050" stroke="#4f7fca" stroke-width="1.5" filter="url(#sh)"/>
<path d="M753 136.5L837.8 136.5M824.1 144.4L837.8 136.5L824.1 128.6" fill="none" stroke="#000" stroke-width="2.1" stroke-linejoin="miter" stroke-linecap="butt"/>
<path d="M754.7 197L839 197M825.3 204.9L839 197L825.3 189.1" fill="none" stroke="#000" stroke-width="2.1" stroke-linejoin="miter" stroke-linecap="butt"/>
<path d="M741.6 256L831.5 256M817.8 263.9L831.5 256L817.8 248.1" fill="none" stroke="#000" stroke-width="2.1" stroke-linejoin="miter" stroke-linecap="butt"/>
<path d="M739.6 310L828.3 310M814.6 317.9L828.3 310L814.6 302.1" fill="none" stroke="#000" stroke-width="2.1" stroke-linejoin="miter" stroke-linecap="butt"/>
</g>
<g id="redlines">
<path d="M267 288.5H483.3V322" fill="none" stroke="#f0101a" stroke-width="2.3"/>
<path d="M476 309.5L483.3 323.7L490.6 309.5" fill="none" stroke="#f0101a" stroke-width="2.3"/>
<path d="M267 373H383V345.7H497.5" fill="none" stroke="#f0101a" stroke-width="2.3"/>
<path d="M484.8 338.6L498.6 345.7L484.8 352.8" fill="none" stroke="#f0101a" stroke-width="2.3"/>
<path d="M267 638.6H483.3V671" fill="none" stroke="#f0101a" stroke-width="2.3"/>
<path d="M476 658.3L483.3 672.6L490.6 658.3" fill="none" stroke="#f0101a" stroke-width="2.3"/>
<path d="M268 729H385.7V697.3H502" fill="none" stroke="#f0101a" stroke-width="2.3"/>
<path d="M489.2 690.2L503 697.3L489.2 704.4" fill="none" stroke="#f0101a" stroke-width="2.3"/>
</g>
<g id="texts">
<text font-size="50.2" fill="#808080" xml:space="preserve"><tspan x="69.8" y="55.77" font-size="52.71" textLength="68.02" lengthAdjust="spacingAndGlyphs">BG</tspan><tspan x="137.82" y="57.78">颜色防呆及点胶超时说明</tspan></text>
<text font-size="25.2" fill="#000" xml:space="preserve"><tspan x="844.8" y="148.92" font-size="26.46" textLength="34.15" lengthAdjust="spacingAndGlyphs">BG</tspan><tspan x="878.95" y="149.93">扫码</tspan></text>
<text font-size="25.2" fill="#000" xml:space="preserve"><tspan x="840.5" y="207.83">治具扫码</tspan></text>
<text font-size="25.2" fill="#000" xml:space="preserve"><tspan x="836.6" y="265.92" font-size="26.46" textLength="34.15" lengthAdjust="spacingAndGlyphs">BG</tspan><tspan x="870.75" y="266.93">颜色</tspan><tspan x="921.15" y="265.92" font-size="26.46" textLength="38.43" lengthAdjust="spacingAndGlyphs">NG</tspan><tspan x="959.58" y="266.93">放置区</tspan></text>
<text font-size="25.2" fill="#000" xml:space="preserve"><tspan x="835.6" y="321.22" font-size="26.46" textLength="34.15" lengthAdjust="spacingAndGlyphs">BG</tspan><tspan x="869.75" y="322.23">点胶超时</tspan><tspan x="970.55" y="321.22" font-size="26.46" textLength="38.43" lengthAdjust="spacingAndGlyphs">NG</tspan><tspan x="1008.98" y="322.23">放置区</tspan></text>
<text font-size="37.8" fill="#000" xml:space="preserve"><tspan x="914.39" y="397.93" font-size="39.69" textLength="51.22" lengthAdjust="spacingAndGlyphs">BG</tspan><tspan x="965.61" y="399.44">点胶时间超时流程说明</tspan></text>
<text font-size="37.9" fill="#000" xml:space="preserve"><tspan x="964.22" y="775.96" font-size="39.8" textLength="51.35" lengthAdjust="spacingAndGlyphs">BG</tspan><tspan x="1015.58" y="777.48">颜色防呆流程说明</tspan></text>
<text font-size="25.2" fill="#000" xml:space="preserve"><tspan x="755.93" y="459.92" font-size="26.46" textLength="34.15" lengthAdjust="spacingAndGlyphs">BG</tspan><tspan x="790.07" y="460.93">点胶</tspan></text>
<text font-size="25.2" fill="#000" xml:space="preserve"><tspan x="922.33" y="459.92" font-size="26.46" textLength="34.15" lengthAdjust="spacingAndGlyphs">BG</tspan><tspan x="956.47" y="460.93">点胶完成</tspan></text>
<text font-size="25.2" fill="#000" xml:space="preserve"><tspan x="1138.53" y="460.93">机械手吸取</tspan><tspan x="1264.53" y="459.92" font-size="26.46" textLength="34.15" lengthAdjust="spacingAndGlyphs">BG</tspan></text>
<text font-size="25.2" fill="#000" xml:space="preserve"><tspan x="1381.73" y="459.92" font-size="26.46" textLength="34.15" lengthAdjust="spacingAndGlyphs">BG</tspan><tspan x="1415.87" y="460.93">送至组装机</tspan></text>
<text font-size="25.2" fill="#000" xml:space="preserve"><tspan x="748.4" y="555.23">开始计时</tspan></text>
<text font-size="25.2" fill="#000" xml:space="preserve"><tspan x="1411.8" y="552.63">计时结束</tspan></text>
<text font-size="25.2" fill="#000" xml:space="preserve"><tspan x="1052.89" y="682.33">设定时间</tspan><tspan x="1153.69" y="681.32" font-size="26.46" textLength="60.23" lengthAdjust="spacingAndGlyphs">2min</tspan></text>
<text font-size="25.2" fill="#000" xml:space="preserve"><tspan x="773.73" y="835.52" font-size="26.46" textLength="34.15" lengthAdjust="spacingAndGlyphs">BG</tspan><tspan x="807.87" y="836.53">进点</tspan></text>
<text font-size="25.2" fill="#000" xml:space="preserve"><tspan x="778.2" y="866.43">胶机前</tspan></text>
<text font-size="25.2" fill="#000" xml:space="preserve"><tspan x="935.63" y="835.52" font-size="26.46" textLength="34.15" lengthAdjust="spacingAndGlyphs">BG</tspan><tspan x="969.77" y="836.53">扫码确</tspan></text>
<text font-size="25.2" fill="#000" xml:space="preserve"><tspan x="952.7" y="866.43">认颜色</tspan></text>
<text font-size="25.2" fill="#000" xml:space="preserve"><tspan x="1121.33" y="835.52" font-size="26.46" textLength="34.15" lengthAdjust="spacingAndGlyphs">BG</tspan><tspan x="1155.47" y="836.53">送至机器</tspan></text>
<text font-size="25.2" fill="#000" xml:space="preserve"><tspan x="1125.8" y="866.43">人取料工位</tspan></text>
<text font-size="25.2" fill="#000" xml:space="preserve"><tspan x="1341.63" y="836.53">机器人取</tspan><tspan x="1442.43" y="835.52" font-size="26.46" textLength="34.15" lengthAdjust="spacingAndGlyphs">BG</tspan><tspan x="1476.57" y="836.53">放入</tspan></text>
<text font-size="25.2" fill="#000" xml:space="preserve"><tspan x="1352.09" y="866.43">颜色</tspan><tspan x="1402.49" y="865.42" font-size="26.46" textLength="38.43" lengthAdjust="spacingAndGlyphs">NG</tspan><tspan x="1440.92" y="866.43">放置区</tspan></text>
<text font-size="25" fill="#000" xml:space="preserve"><tspan x="756.4" y="937.55">说明</tspan><tspan x="813.15" y="937.05">：</tspan><tspan x="831.4" y="937.55">上料時</tspan><tspan x="906.4" y="936.55" font-size="26.25" textLength="14" lengthAdjust="spacingAndGlyphs">, </tspan><tspan x="920.4" y="937.55">流入點膠機的取料線</tspan><tspan x="1145.4" y="936.55" font-size="26.25" textLength="6.25" lengthAdjust="spacingAndGlyphs">,</tspan><tspan x="1151.65" y="937.55">掃</tspan><tspan x="1176.65" y="936.55" font-size="26.25" textLength="47.88" lengthAdjust="spacingAndGlyphs">BG, </tspan><tspan x="1224.53" y="937.55">確定顏色</tspan><tspan x="1324.53" y="936.55" font-size="26.25" textLength="14" lengthAdjust="spacingAndGlyphs">, </tspan><tspan x="1338.53" y="937.55">顏色正確</tspan><tspan x="1438.53" y="936.55" font-size="26.25" textLength="14" lengthAdjust="spacingAndGlyphs">, </tspan><tspan x="1452.53" y="937.55">上點膠機點膠。</tspan></text>
<text font-size="25" fill="#000" xml:space="preserve"><tspan x="706.5" y="966.55" font-size="26.25" textLength="8.5" lengthAdjust="spacingAndGlyphs">(</tspan><tspan x="715" y="967.55">不正確時</tspan><tspan x="815" y="966.55" font-size="26.25" textLength="47.88" lengthAdjust="spacingAndGlyphs">, BG</tspan><tspan x="862.88" y="967.55">送至机器人取料工位</tspan><tspan x="1094.62" y="967.05">，</tspan><tspan x="1112.88" y="967.55">由机器人取出放置颜色</tspan><tspan x="1362.88" y="966.55" font-size="26.25" textLength="38.12" lengthAdjust="spacingAndGlyphs">NG</tspan><tspan x="1401" y="967.55">放置区</tspan><tspan x="1476" y="966.55" font-size="26.25" textLength="16.25" lengthAdjust="spacingAndGlyphs"> )</tspan></text>
<text font-size="25.2" fill="#000" xml:space="preserve"><tspan x="81.2" y="282.82" font-size="26.46" textLength="34.15" lengthAdjust="spacingAndGlyphs">BG</tspan><tspan x="115.35" y="283.83">颜色</tspan><tspan x="165.75" y="282.82" font-size="26.46" textLength="38.43" lengthAdjust="spacingAndGlyphs">NG</tspan><tspan x="204.18" y="283.83">放</tspan></text>
<text font-size="25.2" fill="#000" xml:space="preserve"><tspan x="81" y="314.13">置区</tspan></text>
<text font-size="25.2" fill="#000" xml:space="preserve"><tspan x="98.73" y="367.32" font-size="26.46" textLength="34.15" lengthAdjust="spacingAndGlyphs">BG</tspan><tspan x="132.87" y="368.33">点胶超时</tspan></text>
<text font-size="25.2" fill="#000" xml:space="preserve"><tspan x="109.18" y="397.32" font-size="26.46" textLength="38.43" lengthAdjust="spacingAndGlyphs">NG</tspan><tspan x="147.61" y="398.33">放置区</tspan></text>
<text font-size="25.2" fill="#000" xml:space="preserve"><tspan x="93.91" y="632.82" font-size="26.46" textLength="34.15" lengthAdjust="spacingAndGlyphs">BG</tspan><tspan x="128.06" y="633.83">颜色</tspan><tspan x="178.46" y="632.82" font-size="26.46" textLength="38.43" lengthAdjust="spacingAndGlyphs">NG</tspan><tspan x="216.89" y="633.83">放</tspan></text>
<text font-size="25.2" fill="#000" xml:space="preserve"><tspan x="142.8" y="663.93">置区</tspan></text>
<text font-size="25.2" fill="#000" xml:space="preserve"><tspan x="98.93" y="723.32" font-size="26.46" textLength="34.15" lengthAdjust="spacingAndGlyphs">BG</tspan><tspan x="133.07" y="724.33">点胶超时</tspan></text>
<text font-size="25.2" fill="#000" xml:space="preserve"><tspan x="109.39" y="753.22" font-size="26.46" textLength="38.43" lengthAdjust="spacingAndGlyphs">NG</tspan><tspan x="147.81" y="754.23">放置区</tspan></text>
</g>
</svg></body></html>
